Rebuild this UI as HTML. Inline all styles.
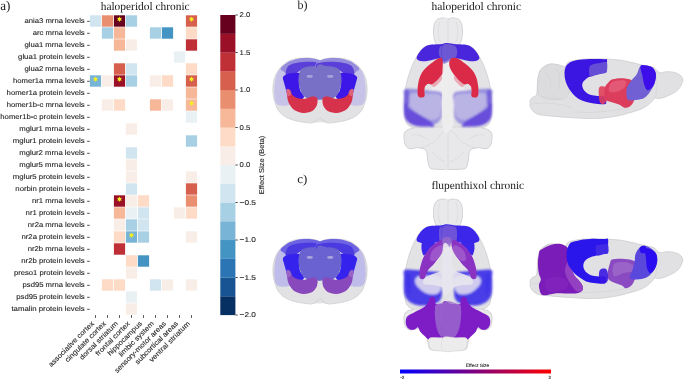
<!DOCTYPE html>
<html><head><meta charset="utf-8"><style>
html,body{margin:0;padding:0;background:#fff;}
body{width:685px;height:379px;overflow:hidden;position:relative;}
svg{position:absolute;left:0;top:0;text-rendering:geometricPrecision;will-change:transform;}
.s{font-family:"Liberation Sans",sans-serif;font-size:7px;fill:#262626;stroke:#262626;stroke-width:0.12px;}
.t{font-family:"Liberation Serif",serif;fill:#1a1a1a;}
</style></head><body>
<svg width="685" height="379" viewBox="0 0 685 379">
<defs>
<filter id="b06" filterUnits="userSpaceOnUse" x="-1000" y="-1000" width="3000" height="3000"><feGaussianBlur stdDeviation="0.6"/></filter>
<filter id="bc" filterUnits="userSpaceOnUse" x="-3000" y="-3000" width="9000" height="9000"><feGaussianBlur stdDeviation="3.5"/></filter>
<filter id="b15" filterUnits="userSpaceOnUse" x="-1000" y="-1000" width="3000" height="3000"><feGaussianBlur stdDeviation="0.8"/></filter>
<filter id="b1" filterUnits="userSpaceOnUse" x="-1000" y="-1000" width="3000" height="3000"><feGaussianBlur stdDeviation="1"/></filter>
<filter id="b2" filterUnits="userSpaceOnUse" x="-1000" y="-1000" width="3000" height="3000"><feGaussianBlur stdDeviation="2"/></filter>
<linearGradient id="cbh" x1="0" x2="1" y1="0" y2="0"><stop offset="0" stop-color="#0000ff"/><stop offset="1" stop-color="#ff0000"/></linearGradient>
</defs>
<text class="t" x="0.3" y="9.8" font-size="13.2" textLength="10.2" lengthAdjust="spacingAndGlyphs">a)</text>
<text class="t" x="145.2" y="10.4" font-size="11.4" text-anchor="middle" textLength="89" lengthAdjust="spacingAndGlyphs">haloperidol chronic</text>
<g><rect x="89.90" y="15.30" width="11.2" height="11.4" fill="#d1e5f0"/><rect x="101.90" y="15.30" width="11.2" height="11.4" fill="#ea8e70"/><rect x="113.90" y="15.30" width="11.2" height="11.4" fill="#67001f"/><rect x="125.90" y="15.30" width="11.2" height="11.4" fill="#a7d0e4"/><rect x="185.90" y="15.30" width="11.2" height="11.4" fill="#d6604d"/><rect x="101.90" y="27.30" width="11.2" height="11.4" fill="#a7d0e4"/><rect x="113.90" y="27.30" width="11.2" height="11.4" fill="#f7b799"/><rect x="149.90" y="27.30" width="11.2" height="11.4" fill="#a7d0e4"/><rect x="161.90" y="27.30" width="11.2" height="11.4" fill="#4393c3"/><rect x="185.90" y="27.30" width="11.2" height="11.4" fill="#fddbc7"/><rect x="113.90" y="39.30" width="11.2" height="11.4" fill="#f7b799"/><rect x="125.90" y="39.30" width="11.2" height="11.4" fill="#f9eee7"/><rect x="185.90" y="39.30" width="11.2" height="11.4" fill="#be3036"/><rect x="173.90" y="51.30" width="11.2" height="11.4" fill="#eaf1f5"/><rect x="113.90" y="63.30" width="11.2" height="11.4" fill="#d6604d"/><rect x="125.90" y="63.30" width="11.2" height="11.4" fill="#d1e5f0"/><rect x="185.90" y="63.30" width="11.2" height="11.4" fill="#fddbc7"/><rect x="89.90" y="75.30" width="11.2" height="11.4" fill="#78b4d5"/><rect x="101.90" y="75.30" width="11.2" height="11.4" fill="#f9eee7"/><rect x="113.90" y="75.30" width="11.2" height="11.4" fill="#991027"/><rect x="125.90" y="75.30" width="11.2" height="11.4" fill="#a7d0e4"/><rect x="149.90" y="75.30" width="11.2" height="11.4" fill="#f9eee7"/><rect x="161.90" y="75.30" width="11.2" height="11.4" fill="#fddbc7"/><rect x="185.90" y="75.30" width="11.2" height="11.4" fill="#d6604d"/><rect x="185.90" y="87.30" width="11.2" height="11.4" fill="#f7b799"/><rect x="101.90" y="99.30" width="11.2" height="11.4" fill="#f9eee7"/><rect x="113.90" y="99.30" width="11.2" height="11.4" fill="#fddbc7"/><rect x="149.90" y="99.30" width="11.2" height="11.4" fill="#f7b799"/><rect x="161.90" y="99.30" width="11.2" height="11.4" fill="#f9eee7"/><rect x="185.90" y="99.30" width="11.2" height="11.4" fill="#f7b799"/><rect x="185.90" y="111.30" width="11.2" height="11.4" fill="#eaf1f5"/><rect x="125.90" y="123.30" width="11.2" height="11.4" fill="#f9eee7"/><rect x="185.90" y="135.30" width="11.2" height="11.4" fill="#a7d0e4"/><rect x="125.90" y="147.30" width="11.2" height="11.4" fill="#d1e5f0"/><rect x="125.90" y="159.30" width="11.2" height="11.4" fill="#f9eee7"/><rect x="125.90" y="171.30" width="11.2" height="11.4" fill="#f9eee7"/><rect x="185.90" y="171.30" width="11.2" height="11.4" fill="#f9eee7"/><rect x="125.90" y="183.30" width="11.2" height="11.4" fill="#d1e5f0"/><rect x="185.90" y="183.30" width="11.2" height="11.4" fill="#d6604d"/><rect x="113.90" y="195.30" width="11.2" height="11.4" fill="#991027"/><rect x="125.90" y="195.30" width="11.2" height="11.4" fill="#f9eee7"/><rect x="137.90" y="195.30" width="11.2" height="11.4" fill="#fddbc7"/><rect x="185.90" y="195.30" width="11.2" height="11.4" fill="#ea8e70"/><rect x="113.90" y="207.30" width="11.2" height="11.4" fill="#f7b799"/><rect x="125.90" y="207.30" width="11.2" height="11.4" fill="#eaf1f5"/><rect x="137.90" y="207.30" width="11.2" height="11.4" fill="#d1e5f0"/><rect x="173.90" y="207.30" width="11.2" height="11.4" fill="#f9eee7"/><rect x="185.90" y="207.30" width="11.2" height="11.4" fill="#fddbc7"/><rect x="113.90" y="219.30" width="11.2" height="11.4" fill="#f9eee7"/><rect x="125.90" y="219.30" width="11.2" height="11.4" fill="#a7d0e4"/><rect x="137.90" y="219.30" width="11.2" height="11.4" fill="#d1e5f0"/><rect x="113.90" y="231.30" width="11.2" height="11.4" fill="#fddbc7"/><rect x="125.90" y="231.30" width="11.2" height="11.4" fill="#78b4d5"/><rect x="137.90" y="231.30" width="11.2" height="11.4" fill="#a7d0e4"/><rect x="185.90" y="231.30" width="11.2" height="11.4" fill="#f9eee7"/><rect x="113.90" y="243.30" width="11.2" height="11.4" fill="#be3036"/><rect x="125.90" y="255.30" width="11.2" height="11.4" fill="#fddbc7"/><rect x="137.90" y="255.30" width="11.2" height="11.4" fill="#4393c3"/><rect x="125.90" y="267.30" width="11.2" height="11.4" fill="#f9eee7"/><rect x="101.90" y="279.30" width="11.2" height="11.4" fill="#fddbc7"/><rect x="113.90" y="279.30" width="11.2" height="11.4" fill="#fddbc7"/><rect x="149.90" y="279.30" width="11.2" height="11.4" fill="#d1e5f0"/><rect x="161.90" y="279.30" width="11.2" height="11.4" fill="#f9eee7"/><rect x="185.90" y="279.30" width="11.2" height="11.4" fill="#f9eee7"/><rect x="125.90" y="291.30" width="11.2" height="11.4" fill="#eaf1f5"/><rect x="125.90" y="303.30" width="11.2" height="11.4" fill="#f9eee7"/></g>
<g><polygon points="119.50,16.50 118.76,17.91 117.16,17.85 118.02,19.20 117.16,20.55 118.76,20.49 119.50,21.90 120.24,20.49 121.84,20.55 120.98,19.20 121.84,17.85 120.24,17.91" fill="#f4ee1c"/><polygon points="191.50,16.50 190.76,17.91 189.16,17.85 190.01,19.20 189.16,20.55 190.76,20.49 191.50,21.90 192.24,20.49 193.84,20.55 192.99,19.20 193.84,17.85 192.24,17.91" fill="#f4ee1c"/><polygon points="95.50,76.50 94.76,77.91 93.16,77.85 94.02,79.20 93.16,80.55 94.76,80.49 95.50,81.90 96.24,80.49 97.84,80.55 96.98,79.20 97.84,77.85 96.24,77.91" fill="#f4ee1c"/><polygon points="119.50,76.50 118.76,77.91 117.16,77.85 118.02,79.20 117.16,80.55 118.76,80.49 119.50,81.90 120.24,80.49 121.84,80.55 120.98,79.20 121.84,77.85 120.24,77.91" fill="#f4ee1c"/><polygon points="191.50,76.50 190.76,77.91 189.16,77.85 190.01,79.20 189.16,80.55 190.76,80.49 191.50,81.90 192.24,80.49 193.84,80.55 192.99,79.20 193.84,77.85 192.24,77.91" fill="#f4ee1c"/><polygon points="191.50,100.50 190.76,101.91 189.16,101.85 190.01,103.20 189.16,104.55 190.76,104.49 191.50,105.90 192.24,104.49 193.84,104.55 192.99,103.20 193.84,101.85 192.24,101.91" fill="#f4ee1c"/><polygon points="119.50,196.50 118.76,197.91 117.16,197.85 118.02,199.20 117.16,200.55 118.76,200.49 119.50,201.90 120.24,200.49 121.84,200.55 120.98,199.20 121.84,197.85 120.24,197.91" fill="#f4ee1c"/><polygon points="131.50,232.50 130.76,233.91 129.16,233.85 130.01,235.20 129.16,236.55 130.76,236.49 131.50,237.90 132.24,236.49 133.84,236.55 132.99,235.20 133.84,233.85 132.24,233.91" fill="#f4ee1c"/></g>
<g class="s"><text x="84.7" y="23.20" text-anchor="end" textLength="60.14" lengthAdjust="spacingAndGlyphs">ania3 mrna levels</text><text x="84.7" y="35.20" text-anchor="end" textLength="51.90" lengthAdjust="spacingAndGlyphs">arc mrna levels</text><text x="84.7" y="47.20" text-anchor="end" textLength="60.29" lengthAdjust="spacingAndGlyphs">glua1 mrna levels</text><text x="84.7" y="59.20" text-anchor="end" textLength="66.62" lengthAdjust="spacingAndGlyphs">glua1 protein levels</text><text x="84.7" y="71.20" text-anchor="end" textLength="60.29" lengthAdjust="spacingAndGlyphs">glua2 mrna levels</text><text x="84.7" y="83.20" text-anchor="end" textLength="71.74" lengthAdjust="spacingAndGlyphs">homer1a mrna levels</text><text x="84.7" y="95.20" text-anchor="end" textLength="78.08" lengthAdjust="spacingAndGlyphs">homer1a protein levels</text><text x="84.7" y="107.20" text-anchor="end" textLength="78.03" lengthAdjust="spacingAndGlyphs">homer1b-c mrna levels</text><text x="84.7" y="119.20" text-anchor="end" textLength="84.37" lengthAdjust="spacingAndGlyphs">homer1b-c protein levels</text><text x="84.7" y="131.20" text-anchor="end" textLength="65.49" lengthAdjust="spacingAndGlyphs">mglur1 mrna levels</text><text x="84.7" y="143.20" text-anchor="end" textLength="71.83" lengthAdjust="spacingAndGlyphs">mglur1 protein levels</text><text x="84.7" y="155.20" text-anchor="end" textLength="65.49" lengthAdjust="spacingAndGlyphs">mglur2 mrna levels</text><text x="84.7" y="167.20" text-anchor="end" textLength="65.49" lengthAdjust="spacingAndGlyphs">mglur5 mrna levels</text><text x="84.7" y="179.20" text-anchor="end" textLength="71.83" lengthAdjust="spacingAndGlyphs">mglur5 protein levels</text><text x="84.7" y="191.20" text-anchor="end" textLength="69.37" lengthAdjust="spacingAndGlyphs">norbin protein levels</text><text x="84.7" y="203.20" text-anchor="end" textLength="52.77" lengthAdjust="spacingAndGlyphs">nr1 mrna levels</text><text x="84.7" y="215.20" text-anchor="end" textLength="59.11" lengthAdjust="spacingAndGlyphs">nr1 protein levels</text><text x="84.7" y="227.20" text-anchor="end" textLength="56.90" lengthAdjust="spacingAndGlyphs">nr2a mrna levels</text><text x="84.7" y="239.20" text-anchor="end" textLength="63.24" lengthAdjust="spacingAndGlyphs">nr2a protein levels</text><text x="84.7" y="251.20" text-anchor="end" textLength="57.05" lengthAdjust="spacingAndGlyphs">nr2b mrna levels</text><text x="84.7" y="263.20" text-anchor="end" textLength="63.39" lengthAdjust="spacingAndGlyphs">nr2b protein levels</text><text x="84.7" y="275.20" text-anchor="end" textLength="70.75" lengthAdjust="spacingAndGlyphs">preso1 protein levels</text><text x="84.7" y="287.20" text-anchor="end" textLength="62.09" lengthAdjust="spacingAndGlyphs">psd95 mrna levels</text><text x="84.7" y="299.20" text-anchor="end" textLength="68.43" lengthAdjust="spacingAndGlyphs">psd95 protein levels</text><text x="84.7" y="311.20" text-anchor="end" textLength="73.27" lengthAdjust="spacingAndGlyphs">tamalin protein levels</text></g>
<g stroke="#333" stroke-width="0.85"><line x1="87.1" y1="21.30" x2="89.7" y2="21.30"/><line x1="87.1" y1="33.30" x2="89.7" y2="33.30"/><line x1="87.1" y1="45.30" x2="89.7" y2="45.30"/><line x1="87.1" y1="57.30" x2="89.7" y2="57.30"/><line x1="87.1" y1="69.30" x2="89.7" y2="69.30"/><line x1="87.1" y1="81.30" x2="89.7" y2="81.30"/><line x1="87.1" y1="93.30" x2="89.7" y2="93.30"/><line x1="87.1" y1="105.30" x2="89.7" y2="105.30"/><line x1="87.1" y1="117.30" x2="89.7" y2="117.30"/><line x1="87.1" y1="129.30" x2="89.7" y2="129.30"/><line x1="87.1" y1="141.30" x2="89.7" y2="141.30"/><line x1="87.1" y1="153.30" x2="89.7" y2="153.30"/><line x1="87.1" y1="165.30" x2="89.7" y2="165.30"/><line x1="87.1" y1="177.30" x2="89.7" y2="177.30"/><line x1="87.1" y1="189.30" x2="89.7" y2="189.30"/><line x1="87.1" y1="201.30" x2="89.7" y2="201.30"/><line x1="87.1" y1="213.30" x2="89.7" y2="213.30"/><line x1="87.1" y1="225.30" x2="89.7" y2="225.30"/><line x1="87.1" y1="237.30" x2="89.7" y2="237.30"/><line x1="87.1" y1="249.30" x2="89.7" y2="249.30"/><line x1="87.1" y1="261.30" x2="89.7" y2="261.30"/><line x1="87.1" y1="273.30" x2="89.7" y2="273.30"/><line x1="87.1" y1="285.30" x2="89.7" y2="285.30"/><line x1="87.1" y1="297.30" x2="89.7" y2="297.30"/><line x1="87.1" y1="309.30" x2="89.7" y2="309.30"/></g>
<g class="s"><text x="94.40" y="324.00" text-anchor="end" textLength="61.04" lengthAdjust="spacingAndGlyphs" transform="rotate(-45 94.40 324.00)">associative cortex</text><text x="106.40" y="324.00" text-anchor="end" textLength="54.60" lengthAdjust="spacingAndGlyphs" transform="rotate(-45 106.40 324.00)">cingulate cortex</text><text x="118.40" y="324.00" text-anchor="end" textLength="51.24" lengthAdjust="spacingAndGlyphs" transform="rotate(-45 118.40 324.00)">dorsal striatum</text><text x="130.40" y="324.00" text-anchor="end" textLength="45.44" lengthAdjust="spacingAndGlyphs" transform="rotate(-45 130.40 324.00)">frontal cortex</text><text x="142.40" y="324.00" text-anchor="end" textLength="45.29" lengthAdjust="spacingAndGlyphs" transform="rotate(-45 142.40 324.00)">hippocampus</text><text x="154.40" y="324.00" text-anchor="end" textLength="46.68" lengthAdjust="spacingAndGlyphs" transform="rotate(-45 154.40 324.00)">limbic system</text><text x="166.40" y="324.00" text-anchor="end" textLength="69.55" lengthAdjust="spacingAndGlyphs" transform="rotate(-45 166.40 324.00)">sensory-motor areas</text><text x="178.40" y="324.00" text-anchor="end" textLength="57.57" lengthAdjust="spacingAndGlyphs" transform="rotate(-45 178.40 324.00)">subcortical areas</text><text x="190.40" y="324.00" text-anchor="end" textLength="54.37" lengthAdjust="spacingAndGlyphs" transform="rotate(-45 190.40 324.00)">ventral striatum</text></g>
<g stroke="#333" stroke-width="0.85"><line x1="95.50" y1="315.2" x2="95.50" y2="317.9"/><line x1="107.50" y1="315.2" x2="107.50" y2="317.9"/><line x1="119.50" y1="315.2" x2="119.50" y2="317.9"/><line x1="131.50" y1="315.2" x2="131.50" y2="317.9"/><line x1="143.50" y1="315.2" x2="143.50" y2="317.9"/><line x1="155.50" y1="315.2" x2="155.50" y2="317.9"/><line x1="167.50" y1="315.2" x2="167.50" y2="317.9"/><line x1="179.50" y1="315.2" x2="179.50" y2="317.9"/><line x1="191.50" y1="315.2" x2="191.50" y2="317.9"/></g>
<g><rect x="220.3" y="296.250" width="15.1" height="18.85" fill="#053061"/><rect x="220.3" y="277.500" width="15.1" height="18.85" fill="#185493"/><rect x="220.3" y="258.750" width="15.1" height="18.85" fill="#2c75b4"/><rect x="220.3" y="240.000" width="15.1" height="18.85" fill="#4393c3"/><rect x="220.3" y="221.250" width="15.1" height="18.85" fill="#78b4d5"/><rect x="220.3" y="202.500" width="15.1" height="18.85" fill="#a7d0e4"/><rect x="220.3" y="183.750" width="15.1" height="18.85" fill="#d1e5f0"/><rect x="220.3" y="165.000" width="15.1" height="18.85" fill="#eaf1f5"/><rect x="220.3" y="146.250" width="15.1" height="18.85" fill="#f9eee7"/><rect x="220.3" y="127.500" width="15.1" height="18.85" fill="#fddbc7"/><rect x="220.3" y="108.750" width="15.1" height="18.85" fill="#f7b799"/><rect x="220.3" y="90.000" width="15.1" height="18.85" fill="#ea8e70"/><rect x="220.3" y="71.250" width="15.1" height="18.85" fill="#d6604d"/><rect x="220.3" y="52.500" width="15.1" height="18.85" fill="#be3036"/><rect x="220.3" y="33.750" width="15.1" height="18.85" fill="#991027"/><rect x="220.3" y="15.000" width="15.1" height="18.85" fill="#67001f"/></g>
<g stroke="#333" stroke-width="0.85"><line x1="235.4" y1="15.00" x2="237.8" y2="15.00"/><line x1="235.4" y1="52.50" x2="237.8" y2="52.50"/><line x1="235.4" y1="90.00" x2="237.8" y2="90.00"/><line x1="235.4" y1="127.50" x2="237.8" y2="127.50"/><line x1="235.4" y1="165.00" x2="237.8" y2="165.00"/><line x1="235.4" y1="202.50" x2="237.8" y2="202.50"/><line x1="235.4" y1="240.00" x2="237.8" y2="240.00"/><line x1="235.4" y1="277.50" x2="237.8" y2="277.50"/><line x1="235.4" y1="315.00" x2="237.8" y2="315.00"/></g>
<g class="s"><text x="239.6" y="17.40" textLength="10.72" lengthAdjust="spacingAndGlyphs">2.0</text><text x="239.6" y="54.90" textLength="10.72" lengthAdjust="spacingAndGlyphs">1.5</text><text x="239.6" y="92.40" textLength="10.72" lengthAdjust="spacingAndGlyphs">1.0</text><text x="239.6" y="129.90" textLength="10.72" lengthAdjust="spacingAndGlyphs">0.5</text><text x="239.6" y="167.40" textLength="10.72" lengthAdjust="spacingAndGlyphs">0.0</text><text x="239.6" y="204.90" textLength="16.37" lengthAdjust="spacingAndGlyphs">−0.5</text><text x="239.6" y="242.40" textLength="16.37" lengthAdjust="spacingAndGlyphs">−1.0</text><text x="239.6" y="279.90" textLength="16.37" lengthAdjust="spacingAndGlyphs">−1.5</text><text x="239.6" y="317.40" textLength="16.37" lengthAdjust="spacingAndGlyphs">−2.0</text></g>
<text class="s" transform="translate(264.1 165) rotate(-90)" text-anchor="middle" textLength="58.3" lengthAdjust="spacingAndGlyphs">Effect Size (Beta)</text>
<text class="t" x="297.5" y="9.4" font-size="12.4" textLength="10" lengthAdjust="spacingAndGlyphs">b)</text>
<text class="t" x="476.3" y="10.2" font-size="11.4" text-anchor="middle" textLength="89.8" lengthAdjust="spacingAndGlyphs">haloperidol chronic</text>
<text class="t" x="297.3" y="182.9" font-size="12.4" textLength="10" lengthAdjust="spacingAndGlyphs">c)</text>
<text class="t" x="477.8" y="189.4" font-size="11.4" text-anchor="middle" textLength="92.8" lengthAdjust="spacingAndGlyphs">flupenthixol chronic</text>
<g id="brains">
<g id="corB"><g transform="translate(270 55) scale(0.17135)"><path d="M296.00 38.00 C291.67 35.67,281.00 27.50,270.00 24.00 C259.00 20.50,243.33 18.00,230.00 17.00 C216.67 16.00,206.67 16.33,190.00 18.00 C173.33 19.67,148.33 20.83,130.00 27.00 C111.67 33.17,94.17 43.67,80.00 55.00 C65.83 66.33,54.17 80.83,45.00 95.00 C35.83 109.17,29.67 124.17,25.00 140.00 C20.33 155.83,17.83 173.33,17.00 190.00 C16.17 206.67,17.50 224.17,20.00 240.00 C22.50 255.83,27.00 270.83,32.00 285.00 C37.00 299.17,41.17 312.83,50.00 325.00 C58.83 337.17,70.83 348.83,85.00 358.00 C99.17 367.17,116.67 374.33,135.00 380.00 C153.33 385.67,175.83 389.50,195.00 392.00 C214.17 394.50,233.17 394.83,250.00 395.00 C266.83 395.17,288.33 393.33,296.00 393.00 L296 36 Z" fill="#e2e2e4"/>
<path d="M292.00 34.00 C288.33 32.33,280.33 26.83,270.00 24.00 C259.67 21.17,243.33 18.00,230.00 17.00 C216.67 16.00,206.67 16.33,190.00 18.00 C173.33 19.67,148.33 20.83,130.00 27.00 C111.67 33.17,94.17 43.67,80.00 55.00 C65.83 66.33,54.17 80.83,45.00 95.00 C35.83 109.17,29.67 124.17,25.00 140.00 C20.33 155.83,17.83 173.33,17.00 190.00 C16.17 206.67,17.50 224.17,20.00 240.00 C22.50 255.83,27.00 270.83,32.00 285.00 C37.00 299.17,41.17 312.83,50.00 325.00 C58.83 337.17,70.83 348.83,85.00 358.00 C99.17 367.17,116.67 374.33,135.00 380.00 C153.33 385.67,175.83 389.50,195.00 392.00 C214.17 394.50,233.83 399.67,250.00 395.00 C266.17 390.33,285.00 369.17,292.00 364.00" fill="none" stroke="#c8c8cc" stroke-width="4"/>
<g filter="url(#bc)">
<path d="M30.00 150.00 C33.33 128.33,36.67 115.00,45.00 100.00 C53.33 85.00,65.83 70.83,80.00 60.00 C94.17 49.17,118.33 26.67,130.00 35.00 C141.67 43.33,151.67 92.50,150.00 110.00 C148.33 127.50,126.67 125.00,120.00 140.00 C113.33 155.00,110.00 175.83,110.00 200.00 C110.00 224.17,130.83 270.00,120.00 285.00 C109.17 300.00,60.83 299.17,45.00 290.00 C29.17 280.83,27.50 253.33,25.00 230.00 C22.50 206.67,26.67 171.67,30.00 150.00 Z" fill="#c4bfe8" opacity="0.9"/>
<path d="M310.00 40.00 C306.67 32.33,300.00 33.33,290.00 30.00 C280.00 26.67,265.00 22.00,250.00 20.00 C235.00 18.00,216.67 17.17,200.00 18.00 C183.33 18.83,166.67 20.50,150.00 25.00 C133.33 29.50,114.67 35.83,100.00 45.00 C85.33 54.17,64.50 70.83,62.00 80.00 C59.50 89.17,78.67 93.33,85.00 100.00 C91.33 106.67,89.17 120.00,100.00 120.00 C110.83 120.00,133.33 106.67,150.00 100.00 C166.67 93.33,173.33 84.00,200.00 80.00 C226.67 76.00,291.67 82.67,310.00 76.00 C328.33 69.33,313.33 47.67,310.00 40.00 Z" fill="#958cdc" />
<path d="M110.00 62.00 C121.33 52.83,140.00 48.67,160.00 45.00 C180.00 41.33,208.33 40.00,230.00 40.00 C251.67 40.00,276.67 43.33,290.00 45.00 C303.33 46.67,306.67 44.83,310.00 50.00 C313.33 55.17,321.67 72.33,310.00 76.00 C298.33 79.67,258.33 71.67,240.00 72.00 C221.67 72.33,210.83 74.67,200.00 78.00 C189.17 81.33,183.33 87.00,175.00 92.00 C166.67 97.00,161.67 103.00,150.00 108.00 C138.33 113.00,114.67 123.33,105.00 122.00 C95.33 120.67,91.17 110.00,92.00 100.00 C92.83 90.00,98.67 71.17,110.00 62.00 Z" fill="#5a40d8" />
<path d="M76.00 128.00 C79.33 120.83,87.67 116.00,100.00 112.00 C112.33 108.00,137.00 104.33,150.00 104.00 C163.00 103.67,174.67 100.67,178.00 110.00 C181.33 119.33,170.33 144.17,170.00 160.00 C169.67 175.83,171.33 190.67,176.00 205.00 C180.67 219.33,202.33 234.83,198.00 246.00 C193.67 257.17,163.33 270.50,150.00 272.00 C136.67 273.50,126.33 262.33,118.00 255.00 C109.67 247.67,104.67 238.83,100.00 228.00 C95.33 217.17,93.33 202.17,90.00 190.00 C86.67 177.83,82.33 165.33,80.00 155.00 C77.67 144.67,72.67 135.17,76.00 128.00 Z" fill="#3c16e8" />
<path d="M176.00 92.00 C182.50 79.00,192.67 76.33,205.00 72.00 C217.33 67.67,232.50 66.33,250.00 66.00 C267.50 65.67,300.00 40.00,310.00 70.00 C320.00 100.00,320.00 215.67,310.00 246.00 C300.00 276.33,267.50 252.00,250.00 252.00 C232.50 252.00,217.00 253.83,205.00 246.00 C193.00 238.17,184.50 221.00,178.00 205.00 C171.50 189.00,166.33 168.83,166.00 150.00 C165.67 131.17,169.50 105.00,176.00 92.00 Z" fill="#7870c6" />
<ellipse cx="232" cy="125" rx="18" ry="8" fill="#aaa4dc"/>
<path d="M100.00 205.00 C102.33 195.50,112.67 200.00,118.00 205.00 C123.33 210.00,124.17 227.17,132.00 235.00 C139.83 242.83,152.83 248.67,165.00 252.00 C177.17 255.33,192.50 256.33,205.00 255.00 C217.50 253.67,229.50 245.67,240.00 244.00 C250.50 242.33,261.67 242.00,268.00 245.00 C274.33 248.00,277.67 252.83,278.00 262.00 C278.33 271.17,276.33 288.67,270.00 300.00 C263.67 311.33,252.50 323.67,240.00 330.00 C227.50 336.33,210.00 338.83,195.00 338.00 C180.00 337.17,162.17 331.33,150.00 325.00 C137.83 318.67,129.67 310.50,122.00 300.00 C114.33 289.50,107.67 277.83,104.00 262.00 C100.33 246.17,97.67 214.50,100.00 205.00 Z" fill="#d6304c" />
<path d="M95.00 200.00 C97.50 195.33,107.00 195.83,112.00 200.00 C117.00 204.17,125.33 218.33,125.00 225.00 C124.67 231.67,114.67 239.50,110.00 240.00 C105.33 240.50,99.50 234.67,97.00 228.00 C94.50 221.33,92.50 204.67,95.00 200.00 Z" fill="#e07a90" opacity="0.7"/>
</g></g><g transform="translate(640 0) scale(-1 1)"><g transform="translate(270 55) scale(0.17135)"><path d="M296.00 38.00 C291.67 35.67,281.00 27.50,270.00 24.00 C259.00 20.50,243.33 18.00,230.00 17.00 C216.67 16.00,206.67 16.33,190.00 18.00 C173.33 19.67,148.33 20.83,130.00 27.00 C111.67 33.17,94.17 43.67,80.00 55.00 C65.83 66.33,54.17 80.83,45.00 95.00 C35.83 109.17,29.67 124.17,25.00 140.00 C20.33 155.83,17.83 173.33,17.00 190.00 C16.17 206.67,17.50 224.17,20.00 240.00 C22.50 255.83,27.00 270.83,32.00 285.00 C37.00 299.17,41.17 312.83,50.00 325.00 C58.83 337.17,70.83 348.83,85.00 358.00 C99.17 367.17,116.67 374.33,135.00 380.00 C153.33 385.67,175.83 389.50,195.00 392.00 C214.17 394.50,233.17 394.83,250.00 395.00 C266.83 395.17,288.33 393.33,296.00 393.00 L296 36 Z" fill="#e2e2e4"/>
<path d="M292.00 34.00 C288.33 32.33,280.33 26.83,270.00 24.00 C259.67 21.17,243.33 18.00,230.00 17.00 C216.67 16.00,206.67 16.33,190.00 18.00 C173.33 19.67,148.33 20.83,130.00 27.00 C111.67 33.17,94.17 43.67,80.00 55.00 C65.83 66.33,54.17 80.83,45.00 95.00 C35.83 109.17,29.67 124.17,25.00 140.00 C20.33 155.83,17.83 173.33,17.00 190.00 C16.17 206.67,17.50 224.17,20.00 240.00 C22.50 255.83,27.00 270.83,32.00 285.00 C37.00 299.17,41.17 312.83,50.00 325.00 C58.83 337.17,70.83 348.83,85.00 358.00 C99.17 367.17,116.67 374.33,135.00 380.00 C153.33 385.67,175.83 389.50,195.00 392.00 C214.17 394.50,233.83 399.67,250.00 395.00 C266.17 390.33,285.00 369.17,292.00 364.00" fill="none" stroke="#c8c8cc" stroke-width="4"/>
<g filter="url(#bc)">
<path d="M30.00 150.00 C33.33 128.33,36.67 115.00,45.00 100.00 C53.33 85.00,65.83 70.83,80.00 60.00 C94.17 49.17,118.33 26.67,130.00 35.00 C141.67 43.33,151.67 92.50,150.00 110.00 C148.33 127.50,126.67 125.00,120.00 140.00 C113.33 155.00,110.00 175.83,110.00 200.00 C110.00 224.17,130.83 270.00,120.00 285.00 C109.17 300.00,60.83 299.17,45.00 290.00 C29.17 280.83,27.50 253.33,25.00 230.00 C22.50 206.67,26.67 171.67,30.00 150.00 Z" fill="#c4bfe8" opacity="0.9"/>
<path d="M310.00 40.00 C306.67 32.33,300.00 33.33,290.00 30.00 C280.00 26.67,265.00 22.00,250.00 20.00 C235.00 18.00,216.67 17.17,200.00 18.00 C183.33 18.83,166.67 20.50,150.00 25.00 C133.33 29.50,114.67 35.83,100.00 45.00 C85.33 54.17,64.50 70.83,62.00 80.00 C59.50 89.17,78.67 93.33,85.00 100.00 C91.33 106.67,89.17 120.00,100.00 120.00 C110.83 120.00,133.33 106.67,150.00 100.00 C166.67 93.33,173.33 84.00,200.00 80.00 C226.67 76.00,291.67 82.67,310.00 76.00 C328.33 69.33,313.33 47.67,310.00 40.00 Z" fill="#958cdc" />
<path d="M110.00 62.00 C121.33 52.83,140.00 48.67,160.00 45.00 C180.00 41.33,208.33 40.00,230.00 40.00 C251.67 40.00,276.67 43.33,290.00 45.00 C303.33 46.67,306.67 44.83,310.00 50.00 C313.33 55.17,321.67 72.33,310.00 76.00 C298.33 79.67,258.33 71.67,240.00 72.00 C221.67 72.33,210.83 74.67,200.00 78.00 C189.17 81.33,183.33 87.00,175.00 92.00 C166.67 97.00,161.67 103.00,150.00 108.00 C138.33 113.00,114.67 123.33,105.00 122.00 C95.33 120.67,91.17 110.00,92.00 100.00 C92.83 90.00,98.67 71.17,110.00 62.00 Z" fill="#5a40d8" />
<path d="M76.00 128.00 C79.33 120.83,87.67 116.00,100.00 112.00 C112.33 108.00,137.00 104.33,150.00 104.00 C163.00 103.67,174.67 100.67,178.00 110.00 C181.33 119.33,170.33 144.17,170.00 160.00 C169.67 175.83,171.33 190.67,176.00 205.00 C180.67 219.33,202.33 234.83,198.00 246.00 C193.67 257.17,163.33 270.50,150.00 272.00 C136.67 273.50,126.33 262.33,118.00 255.00 C109.67 247.67,104.67 238.83,100.00 228.00 C95.33 217.17,93.33 202.17,90.00 190.00 C86.67 177.83,82.33 165.33,80.00 155.00 C77.67 144.67,72.67 135.17,76.00 128.00 Z" fill="#3c16e8" />
<path d="M176.00 92.00 C182.50 79.00,192.67 76.33,205.00 72.00 C217.33 67.67,232.50 66.33,250.00 66.00 C267.50 65.67,300.00 40.00,310.00 70.00 C320.00 100.00,320.00 215.67,310.00 246.00 C300.00 276.33,267.50 252.00,250.00 252.00 C232.50 252.00,217.00 253.83,205.00 246.00 C193.00 238.17,184.50 221.00,178.00 205.00 C171.50 189.00,166.33 168.83,166.00 150.00 C165.67 131.17,169.50 105.00,176.00 92.00 Z" fill="#7870c6" />
<ellipse cx="232" cy="125" rx="18" ry="8" fill="#aaa4dc"/>
<path d="M100.00 205.00 C102.33 195.50,112.67 200.00,118.00 205.00 C123.33 210.00,124.17 227.17,132.00 235.00 C139.83 242.83,152.83 248.67,165.00 252.00 C177.17 255.33,192.50 256.33,205.00 255.00 C217.50 253.67,229.50 245.67,240.00 244.00 C250.50 242.33,261.67 242.00,268.00 245.00 C274.33 248.00,277.67 252.83,278.00 262.00 C278.33 271.17,276.33 288.67,270.00 300.00 C263.67 311.33,252.50 323.67,240.00 330.00 C227.50 336.33,210.00 338.83,195.00 338.00 C180.00 337.17,162.17 331.33,150.00 325.00 C137.83 318.67,129.67 310.50,122.00 300.00 C114.33 289.50,107.67 277.83,104.00 262.00 C100.33 246.17,97.67 214.50,100.00 205.00 Z" fill="#d6304c" />
<path d="M95.00 200.00 C97.50 195.33,107.00 195.83,112.00 200.00 C117.00 204.17,125.33 218.33,125.00 225.00 C124.67 231.67,114.67 239.50,110.00 240.00 C105.33 240.50,99.50 234.67,97.00 228.00 C94.50 221.33,92.50 204.67,95.00 200.00 Z" fill="#e07a90" opacity="0.7"/>
</g></g></g></g>
<g id="axB"><g><path d="M452.00 22.00 C451.33 21.67,449.17 20.67,448.00 20.00 C446.83 19.33,446.00 18.33,445.00 18.00 C444.00 17.67,443.33 17.75,442.00 18.00 C440.67 18.25,438.33 18.33,437.00 19.50 C435.67 20.67,434.58 22.75,434.00 25.00 C433.42 27.25,433.42 30.50,433.50 33.00 C433.58 35.50,434.08 38.03,434.50 40.00 C434.92 41.97,436.82 43.92,436.00 44.80 C435.18 45.68,431.60 44.85,429.60 45.30 C427.60 45.75,425.68 46.38,424.00 47.50 C422.32 48.62,420.75 50.42,419.50 52.00 C418.25 53.58,417.58 55.05,416.50 57.00 C415.42 58.95,414.10 61.27,413.00 63.70 C411.90 66.13,410.82 68.95,409.90 71.60 C408.98 74.25,408.27 76.53,407.50 79.60 C406.73 82.67,405.78 86.60,405.30 90.00 C404.82 93.40,404.72 96.33,404.60 100.00 C404.48 103.67,404.45 108.67,404.60 112.00 C404.75 115.33,405.02 117.92,405.50 120.00 C405.98 122.08,406.58 123.33,407.50 124.50 C408.42 125.67,409.92 126.42,411.00 127.00 C412.08 127.58,414.50 127.58,414.00 128.00 C413.50 128.42,409.58 128.67,408.00 129.50 C406.42 130.33,405.17 131.42,404.50 133.00 C403.83 134.58,403.83 136.92,404.00 139.00 C404.17 141.08,404.67 143.92,405.50 145.50 C406.33 147.08,407.75 148.00,409.00 148.50 C410.25 149.00,411.67 148.65,413.00 148.50 C414.33 148.35,415.83 147.68,417.00 147.60 C418.17 147.52,418.83 147.77,420.00 148.00 C421.17 148.23,422.92 148.50,424.00 149.00 C425.08 149.50,425.97 149.83,426.50 151.00 C427.03 152.17,426.95 154.17,427.20 156.00 C427.45 157.83,427.53 160.00,428.00 162.00 C428.47 164.00,428.67 166.78,430.00 168.00 C431.33 169.22,433.67 169.05,436.00 169.30 C438.33 169.55,441.33 169.47,444.00 169.50 C446.67 169.53,450.67 169.50,452.00 169.50 L452 169.5 L452 22 Z" fill="#e3e3e5"/>
<path d="M452 128 L414 128 C408 129,404 132,404 139 C404 146,408 149,413 148.5 C416 148,418 147.5,420 148 C424 149,426 150,427 152 C427 158,428 164,430 168 C434 169.5,444 169.5,452 169.5 Z" fill="#e8e8ea"/>
<path d="M452 45 L452 18 C450 19,447 17.5,442 18 C436 19,433 26,433.5 33 C434 39,435 43,436 45 Z" fill="#e9e9eb"/>
<path d="M448.00 20.00 C448.00 20.00,448.50 20.33,448.00 20.00 C447.50 19.67,446.00 18.33,445.00 18.00 C444.00 17.67,443.33 17.75,442.00 18.00 C440.67 18.25,438.33 18.33,437.00 19.50 C435.67 20.67,434.58 22.75,434.00 25.00 C433.42 27.25,433.42 30.50,433.50 33.00 C433.58 35.50,434.08 38.03,434.50 40.00 C434.92 41.97,436.82 43.92,436.00 44.80 C435.18 45.68,431.60 44.85,429.60 45.30 C427.60 45.75,425.68 46.38,424.00 47.50 C422.32 48.62,420.75 50.42,419.50 52.00 C418.25 53.58,417.58 55.05,416.50 57.00 C415.42 58.95,414.10 61.27,413.00 63.70 C411.90 66.13,410.82 68.95,409.90 71.60 C408.98 74.25,408.27 76.53,407.50 79.60 C406.73 82.67,405.78 86.60,405.30 90.00 C404.82 93.40,404.72 96.33,404.60 100.00 C404.48 103.67,404.45 108.67,404.60 112.00 C404.75 115.33,405.02 117.92,405.50 120.00 C405.98 122.08,406.58 123.33,407.50 124.50 C408.42 125.67,409.92 126.42,411.00 127.00 C412.08 127.58,414.50 127.58,414.00 128.00 C413.50 128.42,409.58 128.67,408.00 129.50 C406.42 130.33,405.17 131.42,404.50 133.00 C403.83 134.58,403.83 136.92,404.00 139.00 C404.17 141.08,404.67 143.92,405.50 145.50 C406.33 147.08,407.75 148.00,409.00 148.50 C410.25 149.00,411.67 148.65,413.00 148.50 C414.33 148.35,415.83 147.68,417.00 147.60 C418.17 147.52,418.83 147.77,420.00 148.00 C421.17 148.23,422.92 148.50,424.00 149.00 C425.08 149.50,425.97 149.83,426.50 151.00 C427.03 152.17,426.95 154.17,427.20 156.00 C427.45 157.83,427.53 160.00,428.00 162.00 C428.47 164.00,428.67 166.78,430.00 168.00 C431.33 169.22,433.67 169.05,436.00 169.30 C438.33 169.55,442.00 169.47,444.00 169.50 C446.00 169.53,447.33 169.50,448.00 169.50" fill="none" stroke="#c8c8cc" stroke-width="0.7"/>
<g fill="none" stroke="#d0d0d4" stroke-width="0.5">
<path d="M414 128 C430 126,440 127,452 127"/>
<path d="M420 148 C428 146,436 142,440 135 C443 131,446 130,452 130"/>
<path d="M412 135 C418 134,424 136,428 140"/>
<path d="M432 152 C436 156,440 160,446 162"/>
<path d="M448 130 L448 169"/>
<path d="M448 20 L448 44"/>
<path d="M440 22 C437 30,438 38,441 44"/>
</g>
<g filter="url(#b06)">
<path d="M453.00 61.00 C452.00 50.17,448.33 61.50,447.00 62.50 C445.67 63.50,446.00 64.75,445.00 67.00 C444.00 69.25,442.67 73.00,441.00 76.00 C439.33 79.00,437.00 82.50,435.00 85.00 C433.00 87.50,430.33 89.08,429.00 91.00 C427.67 92.92,426.17 95.67,427.00 96.50 C427.83 97.33,431.83 95.58,434.00 96.00 C436.17 96.42,438.67 96.67,440.00 99.00 C441.33 101.33,441.42 105.33,442.00 110.00 C442.58 114.67,441.67 124.08,443.50 127.00 C445.33 129.92,451.42 138.50,453.00 127.50 C454.58 116.50,454.00 71.83,453.00 61.00 Z" fill="#eeeeef" opacity="0.9"/>
</g>
<g filter="url(#b06)">
<path d="M453.00 44.30 C450.83 41.50,443.83 44.12,440.00 44.20 C436.17 44.28,432.58 44.33,430.00 44.80 C427.42 45.27,426.17 45.88,424.50 47.00 C422.83 48.12,421.22 50.00,420.00 51.50 C418.78 53.00,417.73 54.75,417.20 56.00 C416.67 57.25,416.25 58.17,416.80 59.00 C417.35 59.83,418.97 60.62,420.50 61.00 C422.03 61.38,424.25 61.42,426.00 61.30 C427.75 61.18,429.17 60.73,431.00 60.30 C432.83 59.87,434.83 59.03,437.00 58.70 C439.17 58.37,441.33 57.92,444.00 58.30 C446.67 58.68,451.50 63.33,453.00 61.00 C454.50 58.67,455.17 47.10,453.00 44.30 Z" fill="#4a28dc" />
<path d="M453.00 45.50 C451.17 42.67,444.33 44.75,442.00 45.50 C439.67 46.25,439.42 48.25,439.00 50.00 C438.58 51.75,438.83 54.42,439.50 56.00 C440.17 57.58,441.58 58.50,443.00 59.50 C444.42 60.50,446.33 61.50,448.00 62.00 C449.67 62.50,452.17 65.25,453.00 62.50 C453.83 59.75,454.83 48.33,453.00 45.50 Z" fill="#7a6ad2" opacity="0.75"/>
</g>
<g filter="url(#b15)">
<path d="M404.50 89.50 C406.33 88.17,411.08 88.83,415.00 89.00 C418.92 89.17,423.53 89.83,428.00 90.50 C432.47 91.17,439.47 90.75,441.80 93.00 C444.13 95.25,442.00 100.25,442.00 104.00 C442.00 107.75,442.13 112.83,441.80 115.50 C441.47 118.17,440.85 118.72,440.00 120.00 C439.15 121.28,438.37 122.20,436.70 123.20 C435.03 124.20,431.90 125.43,430.00 126.00 C428.10 126.57,427.30 126.57,425.30 126.60 C423.30 126.63,420.22 126.55,418.00 126.20 C415.78 125.85,413.73 125.37,412.00 124.50 C410.27 123.63,408.85 122.58,407.60 121.00 C406.35 119.42,405.13 117.33,404.50 115.00 C403.87 112.67,403.88 110.00,403.80 107.00 C403.72 104.00,403.88 99.92,404.00 97.00 C404.12 94.08,402.67 90.83,404.50 89.50 Z" fill="#9a92de" />
<path d="M410.00 94.00 C413.33 92.42,422.83 93.17,428.00 93.50 C433.17 93.83,438.83 92.92,441.00 96.00 C443.17 99.08,441.67 108.17,441.00 112.00 C440.33 115.83,439.33 117.83,437.00 119.00 C434.67 120.17,430.50 120.17,427.00 119.00 C423.50 117.83,419.17 114.67,416.00 112.00 C412.83 109.33,409.00 106.00,408.00 103.00 C407.00 100.00,406.67 95.58,410.00 94.00 Z" fill="#c8c3e8" opacity="0.7"/>
<path d="M404.50 103.00 C405.42 101.83,407.42 107.00,410.00 109.00 C412.58 111.00,416.67 113.00,420.00 115.00 C423.33 117.00,427.67 119.08,430.00 121.00 C432.33 122.92,434.83 125.57,434.00 126.50 C433.17 127.43,428.17 126.77,425.00 126.60 C421.83 126.43,417.83 126.27,415.00 125.50 C412.17 124.73,409.75 123.58,408.00 122.00 C406.25 120.42,405.08 119.17,404.50 116.00 C403.92 112.83,403.58 104.17,404.50 103.00 Z" fill="#5a3cda" opacity="0.8"/>
<path d="M404.80 91.00 C405.47 88.50,408.30 88.83,409.00 91.00 C409.70 93.17,409.67 101.50,409.00 104.00 C408.33 106.50,405.70 108.17,405.00 106.00 C404.30 103.83,404.13 93.50,404.80 91.00 Z" fill="#5a40d8" opacity="0.6"/>
</g>
<g filter="url(#b06)">
<path d="M442.50 57.80 C441.03 57.75,438.92 58.25,437.00 59.20 C435.08 60.15,432.83 62.07,431.00 63.50 C429.17 64.93,427.50 66.30,426.00 67.80 C424.50 69.30,423.08 70.80,422.00 72.50 C420.92 74.20,420.13 76.13,419.50 78.00 C418.87 79.87,418.52 81.87,418.20 83.70 C417.88 85.53,417.65 87.03,417.60 89.00 C417.55 90.97,417.42 94.07,417.90 95.50 C418.38 96.93,419.40 97.48,420.50 97.60 C421.60 97.72,423.85 97.30,424.50 96.20 C425.15 95.10,424.28 92.65,424.40 91.00 C424.52 89.35,424.52 87.52,425.20 86.30 C425.88 85.08,427.37 84.00,428.50 83.70 C429.63 83.40,430.67 84.95,432.00 84.50 C433.33 84.05,435.00 82.42,436.50 81.00 C438.00 79.58,439.58 77.83,441.00 76.00 C442.42 74.17,444.03 71.92,445.00 70.00 C445.97 68.08,446.67 66.25,446.80 64.50 C446.93 62.75,446.52 60.62,445.80 59.50 C445.08 58.38,443.97 57.85,442.50 57.80 Z" fill="#da2c46" />
<path d="M432.00 84.50 C432.42 83.50,435.00 82.42,436.50 81.00 C438.00 79.58,440.08 76.33,441.00 76.00 C441.92 75.67,442.50 77.67,442.00 79.00 C441.50 80.33,439.33 82.67,438.00 84.00 C436.67 85.33,435.00 86.92,434.00 87.00 C433.00 87.08,431.58 85.50,432.00 84.50 Z" fill="#e890a0" opacity="0.7"/>
</g></g><g transform="translate(896 0) scale(-1 1)"><path d="M452.00 22.00 C451.33 21.67,449.17 20.67,448.00 20.00 C446.83 19.33,446.00 18.33,445.00 18.00 C444.00 17.67,443.33 17.75,442.00 18.00 C440.67 18.25,438.33 18.33,437.00 19.50 C435.67 20.67,434.58 22.75,434.00 25.00 C433.42 27.25,433.42 30.50,433.50 33.00 C433.58 35.50,434.08 38.03,434.50 40.00 C434.92 41.97,436.82 43.92,436.00 44.80 C435.18 45.68,431.60 44.85,429.60 45.30 C427.60 45.75,425.68 46.38,424.00 47.50 C422.32 48.62,420.75 50.42,419.50 52.00 C418.25 53.58,417.58 55.05,416.50 57.00 C415.42 58.95,414.10 61.27,413.00 63.70 C411.90 66.13,410.82 68.95,409.90 71.60 C408.98 74.25,408.27 76.53,407.50 79.60 C406.73 82.67,405.78 86.60,405.30 90.00 C404.82 93.40,404.72 96.33,404.60 100.00 C404.48 103.67,404.45 108.67,404.60 112.00 C404.75 115.33,405.02 117.92,405.50 120.00 C405.98 122.08,406.58 123.33,407.50 124.50 C408.42 125.67,409.92 126.42,411.00 127.00 C412.08 127.58,414.50 127.58,414.00 128.00 C413.50 128.42,409.58 128.67,408.00 129.50 C406.42 130.33,405.17 131.42,404.50 133.00 C403.83 134.58,403.83 136.92,404.00 139.00 C404.17 141.08,404.67 143.92,405.50 145.50 C406.33 147.08,407.75 148.00,409.00 148.50 C410.25 149.00,411.67 148.65,413.00 148.50 C414.33 148.35,415.83 147.68,417.00 147.60 C418.17 147.52,418.83 147.77,420.00 148.00 C421.17 148.23,422.92 148.50,424.00 149.00 C425.08 149.50,425.97 149.83,426.50 151.00 C427.03 152.17,426.95 154.17,427.20 156.00 C427.45 157.83,427.53 160.00,428.00 162.00 C428.47 164.00,428.67 166.78,430.00 168.00 C431.33 169.22,433.67 169.05,436.00 169.30 C438.33 169.55,441.33 169.47,444.00 169.50 C446.67 169.53,450.67 169.50,452.00 169.50 L452 169.5 L452 22 Z" fill="#e3e3e5"/>
<path d="M452 128 L414 128 C408 129,404 132,404 139 C404 146,408 149,413 148.5 C416 148,418 147.5,420 148 C424 149,426 150,427 152 C427 158,428 164,430 168 C434 169.5,444 169.5,452 169.5 Z" fill="#e8e8ea"/>
<path d="M452 45 L452 18 C450 19,447 17.5,442 18 C436 19,433 26,433.5 33 C434 39,435 43,436 45 Z" fill="#e9e9eb"/>
<path d="M448.00 20.00 C448.00 20.00,448.50 20.33,448.00 20.00 C447.50 19.67,446.00 18.33,445.00 18.00 C444.00 17.67,443.33 17.75,442.00 18.00 C440.67 18.25,438.33 18.33,437.00 19.50 C435.67 20.67,434.58 22.75,434.00 25.00 C433.42 27.25,433.42 30.50,433.50 33.00 C433.58 35.50,434.08 38.03,434.50 40.00 C434.92 41.97,436.82 43.92,436.00 44.80 C435.18 45.68,431.60 44.85,429.60 45.30 C427.60 45.75,425.68 46.38,424.00 47.50 C422.32 48.62,420.75 50.42,419.50 52.00 C418.25 53.58,417.58 55.05,416.50 57.00 C415.42 58.95,414.10 61.27,413.00 63.70 C411.90 66.13,410.82 68.95,409.90 71.60 C408.98 74.25,408.27 76.53,407.50 79.60 C406.73 82.67,405.78 86.60,405.30 90.00 C404.82 93.40,404.72 96.33,404.60 100.00 C404.48 103.67,404.45 108.67,404.60 112.00 C404.75 115.33,405.02 117.92,405.50 120.00 C405.98 122.08,406.58 123.33,407.50 124.50 C408.42 125.67,409.92 126.42,411.00 127.00 C412.08 127.58,414.50 127.58,414.00 128.00 C413.50 128.42,409.58 128.67,408.00 129.50 C406.42 130.33,405.17 131.42,404.50 133.00 C403.83 134.58,403.83 136.92,404.00 139.00 C404.17 141.08,404.67 143.92,405.50 145.50 C406.33 147.08,407.75 148.00,409.00 148.50 C410.25 149.00,411.67 148.65,413.00 148.50 C414.33 148.35,415.83 147.68,417.00 147.60 C418.17 147.52,418.83 147.77,420.00 148.00 C421.17 148.23,422.92 148.50,424.00 149.00 C425.08 149.50,425.97 149.83,426.50 151.00 C427.03 152.17,426.95 154.17,427.20 156.00 C427.45 157.83,427.53 160.00,428.00 162.00 C428.47 164.00,428.67 166.78,430.00 168.00 C431.33 169.22,433.67 169.05,436.00 169.30 C438.33 169.55,442.00 169.47,444.00 169.50 C446.00 169.53,447.33 169.50,448.00 169.50" fill="none" stroke="#c8c8cc" stroke-width="0.7"/>
<g fill="none" stroke="#d0d0d4" stroke-width="0.5">
<path d="M414 128 C430 126,440 127,452 127"/>
<path d="M420 148 C428 146,436 142,440 135 C443 131,446 130,452 130"/>
<path d="M412 135 C418 134,424 136,428 140"/>
<path d="M432 152 C436 156,440 160,446 162"/>
<path d="M448 130 L448 169"/>
<path d="M448 20 L448 44"/>
<path d="M440 22 C437 30,438 38,441 44"/>
</g>
<g filter="url(#b06)">
<path d="M453.00 61.00 C452.00 50.17,448.33 61.50,447.00 62.50 C445.67 63.50,446.00 64.75,445.00 67.00 C444.00 69.25,442.67 73.00,441.00 76.00 C439.33 79.00,437.00 82.50,435.00 85.00 C433.00 87.50,430.33 89.08,429.00 91.00 C427.67 92.92,426.17 95.67,427.00 96.50 C427.83 97.33,431.83 95.58,434.00 96.00 C436.17 96.42,438.67 96.67,440.00 99.00 C441.33 101.33,441.42 105.33,442.00 110.00 C442.58 114.67,441.67 124.08,443.50 127.00 C445.33 129.92,451.42 138.50,453.00 127.50 C454.58 116.50,454.00 71.83,453.00 61.00 Z" fill="#eeeeef" opacity="0.9"/>
</g>
<g filter="url(#b06)">
<path d="M453.00 44.30 C450.83 41.50,443.83 44.12,440.00 44.20 C436.17 44.28,432.58 44.33,430.00 44.80 C427.42 45.27,426.17 45.88,424.50 47.00 C422.83 48.12,421.22 50.00,420.00 51.50 C418.78 53.00,417.73 54.75,417.20 56.00 C416.67 57.25,416.25 58.17,416.80 59.00 C417.35 59.83,418.97 60.62,420.50 61.00 C422.03 61.38,424.25 61.42,426.00 61.30 C427.75 61.18,429.17 60.73,431.00 60.30 C432.83 59.87,434.83 59.03,437.00 58.70 C439.17 58.37,441.33 57.92,444.00 58.30 C446.67 58.68,451.50 63.33,453.00 61.00 C454.50 58.67,455.17 47.10,453.00 44.30 Z" fill="#4a28dc" />
<path d="M453.00 45.50 C451.17 42.67,444.33 44.75,442.00 45.50 C439.67 46.25,439.42 48.25,439.00 50.00 C438.58 51.75,438.83 54.42,439.50 56.00 C440.17 57.58,441.58 58.50,443.00 59.50 C444.42 60.50,446.33 61.50,448.00 62.00 C449.67 62.50,452.17 65.25,453.00 62.50 C453.83 59.75,454.83 48.33,453.00 45.50 Z" fill="#7a6ad2" opacity="0.75"/>
</g>
<g filter="url(#b15)">
<path d="M404.50 89.50 C406.33 88.17,411.08 88.83,415.00 89.00 C418.92 89.17,423.53 89.83,428.00 90.50 C432.47 91.17,439.47 90.75,441.80 93.00 C444.13 95.25,442.00 100.25,442.00 104.00 C442.00 107.75,442.13 112.83,441.80 115.50 C441.47 118.17,440.85 118.72,440.00 120.00 C439.15 121.28,438.37 122.20,436.70 123.20 C435.03 124.20,431.90 125.43,430.00 126.00 C428.10 126.57,427.30 126.57,425.30 126.60 C423.30 126.63,420.22 126.55,418.00 126.20 C415.78 125.85,413.73 125.37,412.00 124.50 C410.27 123.63,408.85 122.58,407.60 121.00 C406.35 119.42,405.13 117.33,404.50 115.00 C403.87 112.67,403.88 110.00,403.80 107.00 C403.72 104.00,403.88 99.92,404.00 97.00 C404.12 94.08,402.67 90.83,404.50 89.50 Z" fill="#9a92de" />
<path d="M410.00 94.00 C413.33 92.42,422.83 93.17,428.00 93.50 C433.17 93.83,438.83 92.92,441.00 96.00 C443.17 99.08,441.67 108.17,441.00 112.00 C440.33 115.83,439.33 117.83,437.00 119.00 C434.67 120.17,430.50 120.17,427.00 119.00 C423.50 117.83,419.17 114.67,416.00 112.00 C412.83 109.33,409.00 106.00,408.00 103.00 C407.00 100.00,406.67 95.58,410.00 94.00 Z" fill="#c8c3e8" opacity="0.7"/>
<path d="M404.50 103.00 C405.42 101.83,407.42 107.00,410.00 109.00 C412.58 111.00,416.67 113.00,420.00 115.00 C423.33 117.00,427.67 119.08,430.00 121.00 C432.33 122.92,434.83 125.57,434.00 126.50 C433.17 127.43,428.17 126.77,425.00 126.60 C421.83 126.43,417.83 126.27,415.00 125.50 C412.17 124.73,409.75 123.58,408.00 122.00 C406.25 120.42,405.08 119.17,404.50 116.00 C403.92 112.83,403.58 104.17,404.50 103.00 Z" fill="#5a3cda" opacity="0.8"/>
<path d="M404.80 91.00 C405.47 88.50,408.30 88.83,409.00 91.00 C409.70 93.17,409.67 101.50,409.00 104.00 C408.33 106.50,405.70 108.17,405.00 106.00 C404.30 103.83,404.13 93.50,404.80 91.00 Z" fill="#5a40d8" opacity="0.6"/>
</g>
<g filter="url(#b06)">
<path d="M442.50 57.80 C441.03 57.75,438.92 58.25,437.00 59.20 C435.08 60.15,432.83 62.07,431.00 63.50 C429.17 64.93,427.50 66.30,426.00 67.80 C424.50 69.30,423.08 70.80,422.00 72.50 C420.92 74.20,420.13 76.13,419.50 78.00 C418.87 79.87,418.52 81.87,418.20 83.70 C417.88 85.53,417.65 87.03,417.60 89.00 C417.55 90.97,417.42 94.07,417.90 95.50 C418.38 96.93,419.40 97.48,420.50 97.60 C421.60 97.72,423.85 97.30,424.50 96.20 C425.15 95.10,424.28 92.65,424.40 91.00 C424.52 89.35,424.52 87.52,425.20 86.30 C425.88 85.08,427.37 84.00,428.50 83.70 C429.63 83.40,430.67 84.95,432.00 84.50 C433.33 84.05,435.00 82.42,436.50 81.00 C438.00 79.58,439.58 77.83,441.00 76.00 C442.42 74.17,444.03 71.92,445.00 70.00 C445.97 68.08,446.67 66.25,446.80 64.50 C446.93 62.75,446.52 60.62,445.80 59.50 C445.08 58.38,443.97 57.85,442.50 57.80 Z" fill="#da2c46" />
<path d="M432.00 84.50 C432.42 83.50,435.00 82.42,436.50 81.00 C438.00 79.58,440.08 76.33,441.00 76.00 C441.92 75.67,442.50 77.67,442.00 79.00 C441.50 80.33,439.33 82.67,438.00 84.00 C436.67 85.33,435.00 86.92,434.00 87.00 C433.00 87.08,431.58 85.50,432.00 84.50 Z" fill="#e890a0" opacity="0.7"/>
</g></g></g>
<g id="sagB"><path d="M530.30 100.00 C530.72 98.97,531.50 98.10,532.50 97.30 C533.50 96.50,535.50 96.75,536.30 95.20 C537.10 93.65,537.08 90.53,537.30 88.00 C537.52 85.47,537.23 82.67,537.60 80.00 C537.97 77.33,538.60 74.08,539.50 72.00 C540.40 69.92,541.58 68.75,543.00 67.50 C544.42 66.25,546.38 65.08,548.00 64.50 C549.62 63.92,551.03 63.95,552.70 64.00 C554.37 64.05,556.00 64.33,558.00 64.80 C560.00 65.27,563.12 67.13,564.70 66.80 C566.28 66.47,566.42 63.73,567.50 62.80 C568.58 61.87,569.45 61.70,571.20 61.20 C572.95 60.70,575.53 60.17,578.00 59.80 C580.47 59.43,583.17 59.17,586.00 59.00 C588.83 58.83,591.83 58.80,595.00 58.80 C598.17 58.80,602.00 58.88,605.00 59.00 C608.00 59.12,610.33 59.28,613.00 59.50 C615.67 59.72,618.17 59.88,621.00 60.30 C623.83 60.72,626.83 61.30,630.00 62.00 C633.17 62.70,637.00 63.78,640.00 64.50 C643.00 65.22,645.70 65.77,648.00 66.30 C650.30 66.83,652.30 67.00,653.80 67.70 C655.30 68.40,655.97 69.65,657.00 70.50 C658.03 71.35,658.58 72.58,660.00 72.80 C661.42 73.02,663.55 71.95,665.50 71.80 C667.45 71.65,669.78 71.65,671.70 71.90 C673.62 72.15,675.42 72.60,677.00 73.30 C678.58 74.00,680.23 75.07,681.20 76.10 C682.17 77.13,682.62 78.45,682.80 79.50 C682.98 80.55,682.68 81.23,682.30 82.40 C681.92 83.57,681.22 85.27,680.50 86.50 C679.78 87.73,679.08 88.75,678.00 89.80 C676.92 90.85,675.40 91.93,674.00 92.80 C672.60 93.67,671.10 94.30,669.60 95.00 C668.10 95.70,666.40 96.47,665.00 97.00 C663.60 97.53,662.45 97.95,661.20 98.20 C659.95 98.45,658.57 98.50,657.50 98.50 C656.43 98.50,655.75 97.70,654.80 98.20 C653.85 98.70,652.85 100.43,651.80 101.50 C650.75 102.57,650.05 103.43,648.50 104.60 C646.95 105.77,644.60 107.45,642.50 108.50 C640.40 109.55,638.32 110.12,635.90 110.90 C633.48 111.68,630.47 112.50,628.00 113.20 C625.53 113.90,623.93 114.47,621.10 115.10 C618.27 115.73,614.52 116.47,611.00 117.00 C607.48 117.53,604.17 118.05,600.00 118.30 C595.83 118.55,590.80 118.62,586.00 118.50 C581.20 118.38,576.37 117.95,571.20 117.60 C566.03 117.25,560.23 116.87,555.00 116.40 C549.77 115.93,543.30 115.53,539.80 114.80 C536.30 114.07,535.55 113.23,534.00 112.00 C532.45 110.77,531.17 108.82,530.50 107.40 C529.83 105.98,530.03 104.73,530.00 103.50 C529.97 102.27,529.88 101.03,530.30 100.00 Z" fill="#e1e1e3" stroke="#c8c8cc" stroke-width="0.7"/>
<path d="M654.8 98.2 C657 94,657.5 80,655.9 74 C656.5 72,658 71.5,660 72.8" fill="none" stroke="#d0d0d4" stroke-width="0.5"/>
<path d="M537.90 79.70 C538.23 77.20,538.65 74.03,539.50 72.00 C540.35 69.97,541.58 68.75,543.00 67.50 C544.42 66.25,546.38 65.08,548.00 64.50 C549.62 63.92,551.03 63.95,552.70 64.00 C554.37 64.05,556.00 64.33,558.00 64.80 C560.00 65.27,563.12 65.43,564.70 66.80 C566.28 68.17,566.70 70.47,567.50 73.00 C568.30 75.53,569.25 78.83,569.50 82.00 C569.75 85.17,569.58 89.42,569.00 92.00 C568.42 94.58,567.50 96.28,566.00 97.50 C564.50 98.72,562.67 98.97,560.00 99.30 C557.33 99.63,553.00 99.80,550.00 99.50 C547.00 99.20,543.92 98.42,542.00 97.50 C540.08 96.58,539.25 95.75,538.50 94.00 C537.75 92.25,537.60 89.38,537.50 87.00 C537.40 84.62,537.57 82.20,537.90 79.70 Z" fill="#dcdcde" stroke="#cacace" stroke-width="0.5"/>
<g fill="none" stroke="#cfcfd3" stroke-width="0.5">
<path d="M545 72 C550 76,552 82,550 88"/>
<path d="M556 68 C560 74,561 82,558 90"/>
<path d="M532 104 C545 102,560 103,572 108"/>
<path d="M541 96 C548 98,556 98,562 99"/>
<path d="M575 112 C590 113,610 112,628 108"/>
</g>
<g filter="url(#b06)">
<path d="M564.70 70.50 C565.02 68.92,565.42 66.95,566.50 65.50 C567.58 64.05,569.28 62.72,571.20 61.80 C573.12 60.88,575.53 60.42,578.00 60.00 C580.47 59.58,583.17 59.47,586.00 59.30 C588.83 59.13,591.83 59.02,595.00 59.00 C598.17 58.98,603.00 59.12,605.00 59.20 C607.00 59.28,606.70 58.37,607.00 59.50 C607.30 60.63,606.88 63.92,606.80 66.00 C606.72 68.08,607.30 70.75,606.50 72.00 C605.70 73.25,603.92 72.97,602.00 73.50 C600.08 74.03,597.17 74.62,595.00 75.20 C592.83 75.78,590.58 76.28,589.00 77.00 C587.42 77.72,586.50 78.67,585.50 79.50 C584.50 80.33,583.55 81.00,583.00 82.00 C582.45 83.00,582.12 84.25,582.20 85.50 C582.28 86.75,582.78 88.28,583.50 89.50 C584.22 90.72,585.25 91.88,586.50 92.80 C587.75 93.72,589.13 94.48,591.00 95.00 C592.87 95.52,595.20 95.73,597.70 95.90 C600.20 96.07,604.58 95.32,606.00 96.00 C607.42 96.68,606.28 98.67,606.20 100.00 C606.12 101.33,606.87 103.33,605.50 104.00 C604.13 104.67,600.63 104.20,598.00 104.00 C595.37 103.80,592.37 103.38,589.70 102.80 C587.03 102.22,584.28 101.47,582.00 100.50 C579.72 99.53,577.80 98.47,576.00 97.00 C574.20 95.53,572.62 93.53,571.20 91.70 C569.78 89.87,568.48 87.95,567.50 86.00 C566.52 84.05,565.78 81.83,565.30 80.00 C564.82 78.17,564.70 76.58,564.60 75.00 C564.50 73.42,564.38 72.08,564.70 70.50 Z" fill="#3a12e2" />
<path d="M590.00 66.00 C591.67 63.75,597.20 63.58,600.00 63.00 C602.80 62.42,605.70 61.00,606.80 62.50 C607.90 64.00,607.40 70.18,606.60 72.00 C605.80 73.82,603.93 72.90,602.00 73.40 C600.07 73.90,597.00 74.48,595.00 75.00 C593.00 75.52,590.83 78.00,590.00 76.50 C589.17 75.00,588.33 68.25,590.00 66.00 Z" fill="#6e58d2" opacity="0.85"/>
<path d="M599.00 88.00 C599.75 85.58,602.67 86.17,604.00 86.50 C605.33 86.83,606.50 87.75,607.00 90.00 C607.50 92.25,607.67 97.67,607.00 100.00 C606.33 102.33,604.25 103.83,603.00 104.00 C601.75 104.17,600.17 103.67,599.50 101.00 C598.83 98.33,598.25 90.42,599.00 88.00 Z" fill="#e0405a" opacity="0.9"/>
<path d="M608.40 82.40 C609.63 81.18,610.58 80.00,612.70 79.30 C614.82 78.60,618.30 78.20,621.10 78.20 C623.90 78.20,627.40 78.60,629.50 79.30 C631.60 80.00,632.63 80.83,633.70 82.40 C634.77 83.97,635.72 86.42,635.90 88.70 C636.08 90.98,635.17 93.98,634.80 96.10 C634.43 98.22,634.58 99.63,633.70 101.40 C632.82 103.17,631.07 105.65,629.50 106.70 C627.93 107.75,626.05 108.05,624.30 107.70 C622.55 107.35,620.93 105.47,619.00 104.60 C617.07 103.73,614.82 103.22,612.70 102.50 C610.58 101.78,607.72 101.72,606.30 100.30 C604.88 98.88,604.37 96.28,604.20 94.00 C604.03 91.72,604.60 88.53,605.30 86.60 C606.00 84.67,607.17 83.62,608.40 82.40 Z" fill="#dc3e5c" />
<path d="M611.00 83.00 C612.50 81.25,615.50 80.83,618.00 80.50 C620.50 80.17,625.00 79.75,626.00 81.00 C627.00 82.25,625.67 86.17,624.00 88.00 C622.33 89.83,618.50 91.50,616.00 92.00 C613.50 92.50,609.83 92.50,609.00 91.00 C608.17 89.50,609.50 84.75,611.00 83.00 Z" fill="#e8708a" opacity="0.55"/>
<path d="M627.40 86.60 C628.27 84.48,630.02 82.40,631.60 80.30 C633.18 78.20,635.48 76.28,636.90 74.00 C638.32 71.72,638.52 68.02,640.10 66.60 C641.68 65.18,644.30 65.32,646.40 65.50 C648.50 65.68,651.12 66.28,652.70 67.70 C654.28 69.12,655.55 71.55,655.90 74.00 C656.25 76.45,655.68 79.58,654.80 82.40 C653.92 85.22,652.18 88.43,650.60 90.90 C649.02 93.37,647.05 95.80,645.30 97.20 C643.55 98.60,642.38 98.77,640.10 99.30 C637.82 99.83,633.72 100.40,631.60 100.40 C629.48 100.40,628.27 100.53,627.40 99.30 C626.53 98.07,626.40 95.12,626.40 93.00 C626.40 90.88,626.53 88.72,627.40 86.60 Z" fill="#7060d4" />
<path d="M640.50 66.20 C641.15 64.45,644.37 65.25,646.40 65.50 C648.43 65.75,651.12 66.28,652.70 67.70 C654.28 69.12,655.55 71.55,655.90 74.00 C656.25 76.45,655.53 80.07,654.80 82.40 C654.07 84.73,652.80 86.73,651.50 88.00 C650.20 89.27,648.25 90.67,647.00 90.00 C645.75 89.33,644.75 86.33,644.00 84.00 C643.25 81.67,643.08 78.97,642.50 76.00 C641.92 73.03,639.85 67.95,640.50 66.20 Z" fill="#3c10ea" />
</g></g>
<g transform="translate(0 181)"><g id="corC"><g transform="translate(270 55) scale(0.17135)"><path d="M296.00 38.00 C291.67 35.67,281.00 27.50,270.00 24.00 C259.00 20.50,243.33 18.00,230.00 17.00 C216.67 16.00,206.67 16.33,190.00 18.00 C173.33 19.67,148.33 20.83,130.00 27.00 C111.67 33.17,94.17 43.67,80.00 55.00 C65.83 66.33,54.17 80.83,45.00 95.00 C35.83 109.17,29.67 124.17,25.00 140.00 C20.33 155.83,17.83 173.33,17.00 190.00 C16.17 206.67,17.50 224.17,20.00 240.00 C22.50 255.83,27.00 270.83,32.00 285.00 C37.00 299.17,41.17 312.83,50.00 325.00 C58.83 337.17,70.83 348.83,85.00 358.00 C99.17 367.17,116.67 374.33,135.00 380.00 C153.33 385.67,175.83 389.50,195.00 392.00 C214.17 394.50,233.17 394.83,250.00 395.00 C266.83 395.17,288.33 393.33,296.00 393.00 L296 36 Z" fill="#e2e2e4"/>
<path d="M292.00 34.00 C288.33 32.33,280.33 26.83,270.00 24.00 C259.67 21.17,243.33 18.00,230.00 17.00 C216.67 16.00,206.67 16.33,190.00 18.00 C173.33 19.67,148.33 20.83,130.00 27.00 C111.67 33.17,94.17 43.67,80.00 55.00 C65.83 66.33,54.17 80.83,45.00 95.00 C35.83 109.17,29.67 124.17,25.00 140.00 C20.33 155.83,17.83 173.33,17.00 190.00 C16.17 206.67,17.50 224.17,20.00 240.00 C22.50 255.83,27.00 270.83,32.00 285.00 C37.00 299.17,41.17 312.83,50.00 325.00 C58.83 337.17,70.83 348.83,85.00 358.00 C99.17 367.17,116.67 374.33,135.00 380.00 C153.33 385.67,175.83 389.50,195.00 392.00 C214.17 394.50,233.83 399.67,250.00 395.00 C266.17 390.33,285.00 369.17,292.00 364.00" fill="none" stroke="#c8c8cc" stroke-width="4"/>
<g filter="url(#bc)">
<path d="M30.00 150.00 C33.33 128.33,36.67 115.00,45.00 100.00 C53.33 85.00,65.83 70.83,80.00 60.00 C94.17 49.17,118.33 26.67,130.00 35.00 C141.67 43.33,151.67 92.50,150.00 110.00 C148.33 127.50,126.67 125.00,120.00 140.00 C113.33 155.00,110.00 175.83,110.00 200.00 C110.00 224.17,130.83 270.00,120.00 285.00 C109.17 300.00,60.83 299.17,45.00 290.00 C29.17 280.83,27.50 253.33,25.00 230.00 C22.50 206.67,26.67 171.67,30.00 150.00 Z" fill="#bcb8ea" opacity="0.9"/>
<path d="M310.00 40.00 C306.67 32.33,300.00 33.33,290.00 30.00 C280.00 26.67,265.00 22.00,250.00 20.00 C235.00 18.00,216.67 17.17,200.00 18.00 C183.33 18.83,166.67 20.50,150.00 25.00 C133.33 29.50,114.67 35.83,100.00 45.00 C85.33 54.17,64.50 70.83,62.00 80.00 C59.50 89.17,78.67 93.33,85.00 100.00 C91.33 106.67,89.17 120.00,100.00 120.00 C110.83 120.00,133.33 106.67,150.00 100.00 C166.67 93.33,173.33 84.00,200.00 80.00 C226.67 76.00,291.67 82.67,310.00 76.00 C328.33 69.33,313.33 47.67,310.00 40.00 Z" fill="#6c62e2" />
<path d="M110.00 62.00 C121.33 52.83,140.00 48.67,160.00 45.00 C180.00 41.33,208.33 40.00,230.00 40.00 C251.67 40.00,276.67 43.33,290.00 45.00 C303.33 46.67,306.67 44.83,310.00 50.00 C313.33 55.17,321.67 72.33,310.00 76.00 C298.33 79.67,258.33 71.67,240.00 72.00 C221.67 72.33,210.83 74.67,200.00 78.00 C189.17 81.33,183.33 87.00,175.00 92.00 C166.67 97.00,161.67 103.00,150.00 108.00 C138.33 113.00,114.67 123.33,105.00 122.00 C95.33 120.67,91.17 110.00,92.00 100.00 C92.83 90.00,98.67 71.17,110.00 62.00 Z" fill="#4a3ae0" />
<path d="M76.00 128.00 C79.33 120.83,87.67 116.00,100.00 112.00 C112.33 108.00,137.00 104.33,150.00 104.00 C163.00 103.67,174.67 100.67,178.00 110.00 C181.33 119.33,170.33 144.17,170.00 160.00 C169.67 175.83,171.33 190.67,176.00 205.00 C180.67 219.33,202.33 234.83,198.00 246.00 C193.67 257.17,163.33 270.50,150.00 272.00 C136.67 273.50,126.33 262.33,118.00 255.00 C109.67 247.67,104.67 238.83,100.00 228.00 C95.33 217.17,93.33 202.17,90.00 190.00 C86.67 177.83,82.33 165.33,80.00 155.00 C77.67 144.67,72.67 135.17,76.00 128.00 Z" fill="#3424ec" />
<path d="M176.00 92.00 C182.50 79.00,192.67 76.33,205.00 72.00 C217.33 67.67,232.50 66.33,250.00 66.00 C267.50 65.67,300.00 40.00,310.00 70.00 C320.00 100.00,320.00 215.67,310.00 246.00 C300.00 276.33,267.50 252.00,250.00 252.00 C232.50 252.00,217.00 253.83,205.00 246.00 C193.00 238.17,184.50 221.00,178.00 205.00 C171.50 189.00,166.33 168.83,166.00 150.00 C165.67 131.17,169.50 105.00,176.00 92.00 Z" fill="#6a62d0" />
<ellipse cx="232" cy="125" rx="18" ry="8" fill="#aaa4dc"/>
<path d="M100.00 205.00 C102.33 195.50,112.67 200.00,118.00 205.00 C123.33 210.00,124.17 227.17,132.00 235.00 C139.83 242.83,152.83 248.67,165.00 252.00 C177.17 255.33,192.50 256.33,205.00 255.00 C217.50 253.67,229.50 245.67,240.00 244.00 C250.50 242.33,261.67 242.00,268.00 245.00 C274.33 248.00,277.67 252.83,278.00 262.00 C278.33 271.17,276.33 288.67,270.00 300.00 C263.67 311.33,252.50 323.67,240.00 330.00 C227.50 336.33,210.00 338.83,195.00 338.00 C180.00 337.17,162.17 331.33,150.00 325.00 C137.83 318.67,129.67 310.50,122.00 300.00 C114.33 289.50,107.67 277.83,104.00 262.00 C100.33 246.17,97.67 214.50,100.00 205.00 Z" fill="#8848bc" />
<path d="M95.00 200.00 C97.50 195.33,107.00 195.83,112.00 200.00 C117.00 204.17,125.33 218.33,125.00 225.00 C124.67 231.67,114.67 239.50,110.00 240.00 C105.33 240.50,99.50 234.67,97.00 228.00 C94.50 221.33,92.50 204.67,95.00 200.00 Z" fill="#a070c8" opacity="0.7"/>
</g></g><g transform="translate(640 0) scale(-1 1)"><g transform="translate(270 55) scale(0.17135)"><path d="M296.00 38.00 C291.67 35.67,281.00 27.50,270.00 24.00 C259.00 20.50,243.33 18.00,230.00 17.00 C216.67 16.00,206.67 16.33,190.00 18.00 C173.33 19.67,148.33 20.83,130.00 27.00 C111.67 33.17,94.17 43.67,80.00 55.00 C65.83 66.33,54.17 80.83,45.00 95.00 C35.83 109.17,29.67 124.17,25.00 140.00 C20.33 155.83,17.83 173.33,17.00 190.00 C16.17 206.67,17.50 224.17,20.00 240.00 C22.50 255.83,27.00 270.83,32.00 285.00 C37.00 299.17,41.17 312.83,50.00 325.00 C58.83 337.17,70.83 348.83,85.00 358.00 C99.17 367.17,116.67 374.33,135.00 380.00 C153.33 385.67,175.83 389.50,195.00 392.00 C214.17 394.50,233.17 394.83,250.00 395.00 C266.83 395.17,288.33 393.33,296.00 393.00 L296 36 Z" fill="#e2e2e4"/>
<path d="M292.00 34.00 C288.33 32.33,280.33 26.83,270.00 24.00 C259.67 21.17,243.33 18.00,230.00 17.00 C216.67 16.00,206.67 16.33,190.00 18.00 C173.33 19.67,148.33 20.83,130.00 27.00 C111.67 33.17,94.17 43.67,80.00 55.00 C65.83 66.33,54.17 80.83,45.00 95.00 C35.83 109.17,29.67 124.17,25.00 140.00 C20.33 155.83,17.83 173.33,17.00 190.00 C16.17 206.67,17.50 224.17,20.00 240.00 C22.50 255.83,27.00 270.83,32.00 285.00 C37.00 299.17,41.17 312.83,50.00 325.00 C58.83 337.17,70.83 348.83,85.00 358.00 C99.17 367.17,116.67 374.33,135.00 380.00 C153.33 385.67,175.83 389.50,195.00 392.00 C214.17 394.50,233.83 399.67,250.00 395.00 C266.17 390.33,285.00 369.17,292.00 364.00" fill="none" stroke="#c8c8cc" stroke-width="4"/>
<g filter="url(#bc)">
<path d="M30.00 150.00 C33.33 128.33,36.67 115.00,45.00 100.00 C53.33 85.00,65.83 70.83,80.00 60.00 C94.17 49.17,118.33 26.67,130.00 35.00 C141.67 43.33,151.67 92.50,150.00 110.00 C148.33 127.50,126.67 125.00,120.00 140.00 C113.33 155.00,110.00 175.83,110.00 200.00 C110.00 224.17,130.83 270.00,120.00 285.00 C109.17 300.00,60.83 299.17,45.00 290.00 C29.17 280.83,27.50 253.33,25.00 230.00 C22.50 206.67,26.67 171.67,30.00 150.00 Z" fill="#bcb8ea" opacity="0.9"/>
<path d="M310.00 40.00 C306.67 32.33,300.00 33.33,290.00 30.00 C280.00 26.67,265.00 22.00,250.00 20.00 C235.00 18.00,216.67 17.17,200.00 18.00 C183.33 18.83,166.67 20.50,150.00 25.00 C133.33 29.50,114.67 35.83,100.00 45.00 C85.33 54.17,64.50 70.83,62.00 80.00 C59.50 89.17,78.67 93.33,85.00 100.00 C91.33 106.67,89.17 120.00,100.00 120.00 C110.83 120.00,133.33 106.67,150.00 100.00 C166.67 93.33,173.33 84.00,200.00 80.00 C226.67 76.00,291.67 82.67,310.00 76.00 C328.33 69.33,313.33 47.67,310.00 40.00 Z" fill="#6c62e2" />
<path d="M110.00 62.00 C121.33 52.83,140.00 48.67,160.00 45.00 C180.00 41.33,208.33 40.00,230.00 40.00 C251.67 40.00,276.67 43.33,290.00 45.00 C303.33 46.67,306.67 44.83,310.00 50.00 C313.33 55.17,321.67 72.33,310.00 76.00 C298.33 79.67,258.33 71.67,240.00 72.00 C221.67 72.33,210.83 74.67,200.00 78.00 C189.17 81.33,183.33 87.00,175.00 92.00 C166.67 97.00,161.67 103.00,150.00 108.00 C138.33 113.00,114.67 123.33,105.00 122.00 C95.33 120.67,91.17 110.00,92.00 100.00 C92.83 90.00,98.67 71.17,110.00 62.00 Z" fill="#4a3ae0" />
<path d="M76.00 128.00 C79.33 120.83,87.67 116.00,100.00 112.00 C112.33 108.00,137.00 104.33,150.00 104.00 C163.00 103.67,174.67 100.67,178.00 110.00 C181.33 119.33,170.33 144.17,170.00 160.00 C169.67 175.83,171.33 190.67,176.00 205.00 C180.67 219.33,202.33 234.83,198.00 246.00 C193.67 257.17,163.33 270.50,150.00 272.00 C136.67 273.50,126.33 262.33,118.00 255.00 C109.67 247.67,104.67 238.83,100.00 228.00 C95.33 217.17,93.33 202.17,90.00 190.00 C86.67 177.83,82.33 165.33,80.00 155.00 C77.67 144.67,72.67 135.17,76.00 128.00 Z" fill="#3424ec" />
<path d="M176.00 92.00 C182.50 79.00,192.67 76.33,205.00 72.00 C217.33 67.67,232.50 66.33,250.00 66.00 C267.50 65.67,300.00 40.00,310.00 70.00 C320.00 100.00,320.00 215.67,310.00 246.00 C300.00 276.33,267.50 252.00,250.00 252.00 C232.50 252.00,217.00 253.83,205.00 246.00 C193.00 238.17,184.50 221.00,178.00 205.00 C171.50 189.00,166.33 168.83,166.00 150.00 C165.67 131.17,169.50 105.00,176.00 92.00 Z" fill="#6a62d0" />
<ellipse cx="232" cy="125" rx="18" ry="8" fill="#aaa4dc"/>
<path d="M100.00 205.00 C102.33 195.50,112.67 200.00,118.00 205.00 C123.33 210.00,124.17 227.17,132.00 235.00 C139.83 242.83,152.83 248.67,165.00 252.00 C177.17 255.33,192.50 256.33,205.00 255.00 C217.50 253.67,229.50 245.67,240.00 244.00 C250.50 242.33,261.67 242.00,268.00 245.00 C274.33 248.00,277.67 252.83,278.00 262.00 C278.33 271.17,276.33 288.67,270.00 300.00 C263.67 311.33,252.50 323.67,240.00 330.00 C227.50 336.33,210.00 338.83,195.00 338.00 C180.00 337.17,162.17 331.33,150.00 325.00 C137.83 318.67,129.67 310.50,122.00 300.00 C114.33 289.50,107.67 277.83,104.00 262.00 C100.33 246.17,97.67 214.50,100.00 205.00 Z" fill="#8848bc" />
<path d="M95.00 200.00 C97.50 195.33,107.00 195.83,112.00 200.00 C117.00 204.17,125.33 218.33,125.00 225.00 C124.67 231.67,114.67 239.50,110.00 240.00 C105.33 240.50,99.50 234.67,97.00 228.00 C94.50 221.33,92.50 204.67,95.00 200.00 Z" fill="#a070c8" opacity="0.7"/>
</g></g></g></g></g>
<g transform="translate(0 181.2)"><g id="axC"><g><path d="M452.00 22.00 C451.33 21.67,449.17 20.67,448.00 20.00 C446.83 19.33,446.00 18.33,445.00 18.00 C444.00 17.67,443.33 17.75,442.00 18.00 C440.67 18.25,438.33 18.33,437.00 19.50 C435.67 20.67,434.58 22.75,434.00 25.00 C433.42 27.25,433.42 30.50,433.50 33.00 C433.58 35.50,434.08 38.03,434.50 40.00 C434.92 41.97,436.82 43.92,436.00 44.80 C435.18 45.68,431.60 44.85,429.60 45.30 C427.60 45.75,425.68 46.38,424.00 47.50 C422.32 48.62,420.75 50.42,419.50 52.00 C418.25 53.58,417.58 55.05,416.50 57.00 C415.42 58.95,414.10 61.27,413.00 63.70 C411.90 66.13,410.82 68.95,409.90 71.60 C408.98 74.25,408.27 76.53,407.50 79.60 C406.73 82.67,405.78 86.60,405.30 90.00 C404.82 93.40,404.72 96.33,404.60 100.00 C404.48 103.67,404.45 108.67,404.60 112.00 C404.75 115.33,405.02 117.92,405.50 120.00 C405.98 122.08,406.58 123.33,407.50 124.50 C408.42 125.67,409.92 126.42,411.00 127.00 C412.08 127.58,414.50 127.58,414.00 128.00 C413.50 128.42,409.58 128.67,408.00 129.50 C406.42 130.33,405.17 131.42,404.50 133.00 C403.83 134.58,403.83 136.92,404.00 139.00 C404.17 141.08,404.67 143.92,405.50 145.50 C406.33 147.08,407.75 148.00,409.00 148.50 C410.25 149.00,411.67 148.65,413.00 148.50 C414.33 148.35,415.83 147.68,417.00 147.60 C418.17 147.52,418.83 147.77,420.00 148.00 C421.17 148.23,422.92 148.50,424.00 149.00 C425.08 149.50,425.97 149.83,426.50 151.00 C427.03 152.17,426.95 154.17,427.20 156.00 C427.45 157.83,427.53 160.00,428.00 162.00 C428.47 164.00,428.67 166.78,430.00 168.00 C431.33 169.22,433.67 169.05,436.00 169.30 C438.33 169.55,441.33 169.47,444.00 169.50 C446.67 169.53,450.67 169.50,452.00 169.50 L452 169.5 L452 22 Z" fill="#e3e3e5"/>
<path d="M452 128 L414 128 C408 129,404 132,404 139 C404 146,408 149,413 148.5 C416 148,418 147.5,420 148 C424 149,426 150,427 152 C427 158,428 164,430 168 C434 169.5,444 169.5,452 169.5 Z" fill="#e8e8ea"/>
<path d="M452 45 L452 18 C450 19,447 17.5,442 18 C436 19,433 26,433.5 33 C434 39,435 43,436 45 Z" fill="#e9e9eb"/>
<path d="M448.00 20.00 C448.00 20.00,448.50 20.33,448.00 20.00 C447.50 19.67,446.00 18.33,445.00 18.00 C444.00 17.67,443.33 17.75,442.00 18.00 C440.67 18.25,438.33 18.33,437.00 19.50 C435.67 20.67,434.58 22.75,434.00 25.00 C433.42 27.25,433.42 30.50,433.50 33.00 C433.58 35.50,434.08 38.03,434.50 40.00 C434.92 41.97,436.82 43.92,436.00 44.80 C435.18 45.68,431.60 44.85,429.60 45.30 C427.60 45.75,425.68 46.38,424.00 47.50 C422.32 48.62,420.75 50.42,419.50 52.00 C418.25 53.58,417.58 55.05,416.50 57.00 C415.42 58.95,414.10 61.27,413.00 63.70 C411.90 66.13,410.82 68.95,409.90 71.60 C408.98 74.25,408.27 76.53,407.50 79.60 C406.73 82.67,405.78 86.60,405.30 90.00 C404.82 93.40,404.72 96.33,404.60 100.00 C404.48 103.67,404.45 108.67,404.60 112.00 C404.75 115.33,405.02 117.92,405.50 120.00 C405.98 122.08,406.58 123.33,407.50 124.50 C408.42 125.67,409.92 126.42,411.00 127.00 C412.08 127.58,414.50 127.58,414.00 128.00 C413.50 128.42,409.58 128.67,408.00 129.50 C406.42 130.33,405.17 131.42,404.50 133.00 C403.83 134.58,403.83 136.92,404.00 139.00 C404.17 141.08,404.67 143.92,405.50 145.50 C406.33 147.08,407.75 148.00,409.00 148.50 C410.25 149.00,411.67 148.65,413.00 148.50 C414.33 148.35,415.83 147.68,417.00 147.60 C418.17 147.52,418.83 147.77,420.00 148.00 C421.17 148.23,422.92 148.50,424.00 149.00 C425.08 149.50,425.97 149.83,426.50 151.00 C427.03 152.17,426.95 154.17,427.20 156.00 C427.45 157.83,427.53 160.00,428.00 162.00 C428.47 164.00,428.67 166.78,430.00 168.00 C431.33 169.22,433.67 169.05,436.00 169.30 C438.33 169.55,442.00 169.47,444.00 169.50 C446.00 169.53,447.33 169.50,448.00 169.50" fill="none" stroke="#c8c8cc" stroke-width="0.7"/>
<g fill="none" stroke="#d0d0d4" stroke-width="0.5">
<path d="M414 128 C430 126,440 127,452 127"/>
<path d="M420 148 C428 146,436 142,440 135 C443 131,446 130,452 130"/>
<path d="M412 135 C418 134,424 136,428 140"/>
<path d="M432 152 C436 156,440 160,446 162"/>
<path d="M448 130 L448 169"/>
<path d="M448 20 L448 44"/>
<path d="M440 22 C437 30,438 38,441 44"/>
</g><g filter="url(#b06)">
<path d="M453.00 44.30 C450.83 41.67,443.83 44.12,440.00 44.20 C436.17 44.28,432.58 44.33,430.00 44.80 C427.42 45.27,426.17 45.88,424.50 47.00 C422.83 48.12,421.22 50.00,420.00 51.50 C418.78 53.00,417.73 54.67,417.20 56.00 C416.67 57.33,416.25 58.58,416.80 59.50 C417.35 60.42,418.97 61.00,420.50 61.50 C422.03 62.00,424.25 62.33,426.00 62.50 C427.75 62.67,429.17 62.75,431.00 62.50 C432.83 62.25,434.83 61.42,437.00 61.00 C439.17 60.58,441.33 60.17,444.00 60.00 C446.67 59.83,451.50 62.62,453.00 60.00 C454.50 57.38,455.17 46.93,453.00 44.30 Z" fill="#3a26ea" />
<path d="M453.00 45.50 C451.00 42.75,443.33 44.42,441.00 45.50 C438.67 46.58,439.17 49.58,439.00 52.00 C438.83 54.42,438.83 58.33,440.00 60.00 C441.17 61.67,443.83 61.67,446.00 62.00 C448.17 62.33,451.83 64.75,453.00 62.00 C454.17 59.25,455.00 48.25,453.00 45.50 Z" fill="#7458d6" opacity="0.9"/>
</g>
<g filter="url(#b15)">
<path d="M404.50 89.00 C406.33 87.80,411.08 88.63,415.00 88.80 C418.92 88.97,423.53 89.38,428.00 90.00 C432.47 90.62,439.47 90.17,441.80 92.50 C444.13 94.83,442.00 100.42,442.00 104.00 C442.00 107.58,442.13 111.50,441.80 114.00 C441.47 116.50,440.85 117.75,440.00 119.00 C439.15 120.25,438.37 120.70,436.70 121.50 C435.03 122.30,431.90 123.32,430.00 123.80 C428.10 124.28,427.30 124.37,425.30 124.40 C423.30 124.43,420.22 124.40,418.00 124.00 C415.78 123.60,413.73 122.88,412.00 122.00 C410.27 121.12,408.85 120.20,407.60 118.70 C406.35 117.20,405.13 115.28,404.50 113.00 C403.87 110.72,403.88 107.83,403.80 105.00 C403.72 102.17,403.88 98.67,404.00 96.00 C404.12 93.33,402.67 90.20,404.50 89.00 Z" fill="#4a3ee8" />
<path d="M418.00 95.00 C420.50 94.08,426.17 94.17,430.00 94.50 C433.83 94.83,439.17 94.75,441.00 97.00 C442.83 99.25,441.83 105.33,441.00 108.00 C440.17 110.67,438.50 112.33,436.00 113.00 C433.50 113.67,429.00 113.17,426.00 112.00 C423.00 110.83,419.83 108.00,418.00 106.00 C416.17 104.00,415.00 101.83,415.00 100.00 C415.00 98.17,415.50 95.92,418.00 95.00 Z" fill="#d6d2ee" opacity="0.95"/>
<path d="M406.00 95.00 C406.33 92.00,409.17 91.50,410.00 94.00 C410.83 96.50,411.33 107.00,411.00 110.00 C410.67 113.00,408.83 114.50,408.00 112.00 C407.17 109.50,405.67 98.00,406.00 95.00 Z" fill="#3a2ee8" opacity="0.6"/>
</g>
<g filter="url(#b06)">
<path d="M423.00 59.50 C424.42 58.42,428.00 60.00,430.00 60.50 C432.00 61.00,435.00 61.42,435.00 62.50 C435.00 63.58,431.42 65.42,430.00 67.00 C428.58 68.58,427.58 70.83,426.50 72.00 C425.42 73.17,424.33 74.83,423.50 74.00 C422.67 73.17,421.58 69.42,421.50 67.00 C421.42 64.58,421.58 60.58,423.00 59.50 Z" fill="#3a26ea" />
<path d="M442.30 58.70 C441.22 58.45,439.32 59.83,438.00 60.50 C436.68 61.17,435.73 61.70,434.40 62.70 C433.07 63.70,431.32 65.05,430.00 66.50 C428.68 67.95,427.58 69.82,426.50 71.40 C425.42 72.98,424.30 74.42,423.50 76.00 C422.70 77.58,422.28 79.07,421.70 80.90 C421.12 82.73,420.38 84.82,420.00 87.00 C419.62 89.18,419.32 92.25,419.40 94.00 C419.48 95.75,419.65 97.00,420.50 97.50 C421.35 98.00,423.25 98.42,424.50 97.00 C425.75 95.58,426.62 91.17,428.00 89.00 C429.38 86.83,431.47 85.50,432.80 84.00 C434.13 82.50,434.95 81.32,436.00 80.00 C437.05 78.68,438.10 77.60,439.10 76.10 C440.10 74.60,441.20 72.58,442.00 71.00 C442.80 69.42,443.48 68.10,443.90 66.60 C444.32 65.10,444.77 63.32,444.50 62.00 C444.23 60.68,443.38 58.95,442.30 58.70 Z" fill="#8a30c2" />
<path d="M432.00 70.00 C433.17 67.92,435.33 66.50,437.00 65.50 C438.67 64.50,440.92 63.58,442.00 64.00 C443.08 64.42,443.83 66.17,443.50 68.00 C443.17 69.83,441.58 73.00,440.00 75.00 C438.42 77.00,435.67 79.50,434.00 80.00 C432.33 80.50,430.33 79.67,430.00 78.00 C429.67 76.33,430.83 72.08,432.00 70.00 Z" fill="#a262cc" opacity="0.75"/>
<path d="M445.00 57.00 C446.17 55.50,451.67 55.50,453.00 57.00 C454.33 58.50,453.67 64.50,453.00 66.00 C452.33 67.50,450.17 66.00,449.00 66.00 C447.83 66.00,446.67 67.50,446.00 66.00 C445.33 64.50,443.83 58.50,445.00 57.00 Z" fill="#9868cc" opacity="0.85"/>
<path d="M446.00 66.00 C447.50 64.50,451.83 57.33,453.00 65.00 C454.17 72.67,454.00 104.33,453.00 112.00 C452.00 119.67,448.83 112.00,447.00 111.00 C445.17 110.00,444.17 107.17,442.00 106.00 C439.83 104.83,437.00 104.50,434.00 104.00 C431.00 103.50,425.67 104.00,424.00 103.00 C422.33 102.00,422.67 99.67,424.00 98.00 C425.33 96.33,429.33 94.33,432.00 93.00 C434.67 91.67,438.00 91.50,440.00 90.00 C442.00 88.50,443.33 86.67,444.00 84.00 C444.67 81.33,443.67 77.00,444.00 74.00 C444.33 71.00,444.50 67.50,446.00 66.00 Z" fill="#e8e6ee" opacity="0.9"/>
<path d="M429.70 116.50 C430.62 115.80,433.03 115.30,434.00 115.80 C434.97 116.30,435.13 118.30,435.50 119.50 C435.87 120.70,434.62 122.50,436.20 123.00 C437.78 123.50,442.20 122.62,445.00 122.50 C447.80 122.38,451.67 116.42,453.00 122.30 C454.33 128.18,455.07 152.00,453.00 157.80 C450.93 163.60,443.63 157.10,440.60 157.10 C437.57 157.10,436.73 157.55,434.80 157.80 C432.87 158.05,430.70 159.08,429.00 158.60 C427.30 158.12,426.05 156.23,424.60 154.90 C423.15 153.57,421.38 152.05,420.30 150.60 C419.22 149.15,419.07 146.57,418.10 146.20 C417.13 145.83,415.83 148.03,414.50 148.40 C413.17 148.77,411.43 149.00,410.10 148.40 C408.77 147.80,407.22 146.37,406.50 144.80 C405.78 143.23,405.55 140.70,405.80 139.00 C406.05 137.30,406.55 135.93,408.00 134.60 C409.45 133.27,412.22 132.20,414.50 131.00 C416.78 129.80,419.78 128.57,421.70 127.40 C423.62 126.23,424.87 125.23,426.00 124.00 C427.13 122.77,427.88 121.25,428.50 120.00 C429.12 118.75,428.78 117.20,429.70 116.50 Z" fill="#7e1cc6" />
<path d="M437.00 123.00 C440.00 122.05,450.33 116.63,453.00 122.30 C455.67 127.97,454.83 151.38,453.00 157.00 C451.17 162.62,444.67 157.50,442.00 156.00 C439.33 154.50,438.17 151.33,437.00 148.00 C435.83 144.67,435.33 139.33,435.00 136.00 C434.67 132.67,434.67 130.17,435.00 128.00 C435.33 125.83,434.00 123.95,437.00 123.00 Z" fill="#a070cc" opacity="0.75"/>
</g>
<path d="M429.60 157.00 C431.35 155.93,436.10 156.67,440.00 156.60 C443.90 156.53,450.83 154.45,453.00 156.60 C455.17 158.75,455.17 167.33,453.00 169.50 C450.83 171.67,443.50 169.75,440.00 169.60 C436.50 169.45,433.75 169.70,432.00 168.60 C430.25 167.50,429.90 164.93,429.50 163.00 C429.10 161.07,427.85 158.07,429.60 157.00 Z" fill="#ececed" stroke="#d6d6d9" stroke-width="0.5"/></g><g transform="translate(896 0) scale(-1 1)"><path d="M452.00 22.00 C451.33 21.67,449.17 20.67,448.00 20.00 C446.83 19.33,446.00 18.33,445.00 18.00 C444.00 17.67,443.33 17.75,442.00 18.00 C440.67 18.25,438.33 18.33,437.00 19.50 C435.67 20.67,434.58 22.75,434.00 25.00 C433.42 27.25,433.42 30.50,433.50 33.00 C433.58 35.50,434.08 38.03,434.50 40.00 C434.92 41.97,436.82 43.92,436.00 44.80 C435.18 45.68,431.60 44.85,429.60 45.30 C427.60 45.75,425.68 46.38,424.00 47.50 C422.32 48.62,420.75 50.42,419.50 52.00 C418.25 53.58,417.58 55.05,416.50 57.00 C415.42 58.95,414.10 61.27,413.00 63.70 C411.90 66.13,410.82 68.95,409.90 71.60 C408.98 74.25,408.27 76.53,407.50 79.60 C406.73 82.67,405.78 86.60,405.30 90.00 C404.82 93.40,404.72 96.33,404.60 100.00 C404.48 103.67,404.45 108.67,404.60 112.00 C404.75 115.33,405.02 117.92,405.50 120.00 C405.98 122.08,406.58 123.33,407.50 124.50 C408.42 125.67,409.92 126.42,411.00 127.00 C412.08 127.58,414.50 127.58,414.00 128.00 C413.50 128.42,409.58 128.67,408.00 129.50 C406.42 130.33,405.17 131.42,404.50 133.00 C403.83 134.58,403.83 136.92,404.00 139.00 C404.17 141.08,404.67 143.92,405.50 145.50 C406.33 147.08,407.75 148.00,409.00 148.50 C410.25 149.00,411.67 148.65,413.00 148.50 C414.33 148.35,415.83 147.68,417.00 147.60 C418.17 147.52,418.83 147.77,420.00 148.00 C421.17 148.23,422.92 148.50,424.00 149.00 C425.08 149.50,425.97 149.83,426.50 151.00 C427.03 152.17,426.95 154.17,427.20 156.00 C427.45 157.83,427.53 160.00,428.00 162.00 C428.47 164.00,428.67 166.78,430.00 168.00 C431.33 169.22,433.67 169.05,436.00 169.30 C438.33 169.55,441.33 169.47,444.00 169.50 C446.67 169.53,450.67 169.50,452.00 169.50 L452 169.5 L452 22 Z" fill="#e3e3e5"/>
<path d="M452 128 L414 128 C408 129,404 132,404 139 C404 146,408 149,413 148.5 C416 148,418 147.5,420 148 C424 149,426 150,427 152 C427 158,428 164,430 168 C434 169.5,444 169.5,452 169.5 Z" fill="#e8e8ea"/>
<path d="M452 45 L452 18 C450 19,447 17.5,442 18 C436 19,433 26,433.5 33 C434 39,435 43,436 45 Z" fill="#e9e9eb"/>
<path d="M448.00 20.00 C448.00 20.00,448.50 20.33,448.00 20.00 C447.50 19.67,446.00 18.33,445.00 18.00 C444.00 17.67,443.33 17.75,442.00 18.00 C440.67 18.25,438.33 18.33,437.00 19.50 C435.67 20.67,434.58 22.75,434.00 25.00 C433.42 27.25,433.42 30.50,433.50 33.00 C433.58 35.50,434.08 38.03,434.50 40.00 C434.92 41.97,436.82 43.92,436.00 44.80 C435.18 45.68,431.60 44.85,429.60 45.30 C427.60 45.75,425.68 46.38,424.00 47.50 C422.32 48.62,420.75 50.42,419.50 52.00 C418.25 53.58,417.58 55.05,416.50 57.00 C415.42 58.95,414.10 61.27,413.00 63.70 C411.90 66.13,410.82 68.95,409.90 71.60 C408.98 74.25,408.27 76.53,407.50 79.60 C406.73 82.67,405.78 86.60,405.30 90.00 C404.82 93.40,404.72 96.33,404.60 100.00 C404.48 103.67,404.45 108.67,404.60 112.00 C404.75 115.33,405.02 117.92,405.50 120.00 C405.98 122.08,406.58 123.33,407.50 124.50 C408.42 125.67,409.92 126.42,411.00 127.00 C412.08 127.58,414.50 127.58,414.00 128.00 C413.50 128.42,409.58 128.67,408.00 129.50 C406.42 130.33,405.17 131.42,404.50 133.00 C403.83 134.58,403.83 136.92,404.00 139.00 C404.17 141.08,404.67 143.92,405.50 145.50 C406.33 147.08,407.75 148.00,409.00 148.50 C410.25 149.00,411.67 148.65,413.00 148.50 C414.33 148.35,415.83 147.68,417.00 147.60 C418.17 147.52,418.83 147.77,420.00 148.00 C421.17 148.23,422.92 148.50,424.00 149.00 C425.08 149.50,425.97 149.83,426.50 151.00 C427.03 152.17,426.95 154.17,427.20 156.00 C427.45 157.83,427.53 160.00,428.00 162.00 C428.47 164.00,428.67 166.78,430.00 168.00 C431.33 169.22,433.67 169.05,436.00 169.30 C438.33 169.55,442.00 169.47,444.00 169.50 C446.00 169.53,447.33 169.50,448.00 169.50" fill="none" stroke="#c8c8cc" stroke-width="0.7"/>
<g fill="none" stroke="#d0d0d4" stroke-width="0.5">
<path d="M414 128 C430 126,440 127,452 127"/>
<path d="M420 148 C428 146,436 142,440 135 C443 131,446 130,452 130"/>
<path d="M412 135 C418 134,424 136,428 140"/>
<path d="M432 152 C436 156,440 160,446 162"/>
<path d="M448 130 L448 169"/>
<path d="M448 20 L448 44"/>
<path d="M440 22 C437 30,438 38,441 44"/>
</g><g filter="url(#b06)">
<path d="M453.00 44.30 C450.83 41.67,443.83 44.12,440.00 44.20 C436.17 44.28,432.58 44.33,430.00 44.80 C427.42 45.27,426.17 45.88,424.50 47.00 C422.83 48.12,421.22 50.00,420.00 51.50 C418.78 53.00,417.73 54.67,417.20 56.00 C416.67 57.33,416.25 58.58,416.80 59.50 C417.35 60.42,418.97 61.00,420.50 61.50 C422.03 62.00,424.25 62.33,426.00 62.50 C427.75 62.67,429.17 62.75,431.00 62.50 C432.83 62.25,434.83 61.42,437.00 61.00 C439.17 60.58,441.33 60.17,444.00 60.00 C446.67 59.83,451.50 62.62,453.00 60.00 C454.50 57.38,455.17 46.93,453.00 44.30 Z" fill="#3a26ea" />
<path d="M453.00 45.50 C451.00 42.75,443.33 44.42,441.00 45.50 C438.67 46.58,439.17 49.58,439.00 52.00 C438.83 54.42,438.83 58.33,440.00 60.00 C441.17 61.67,443.83 61.67,446.00 62.00 C448.17 62.33,451.83 64.75,453.00 62.00 C454.17 59.25,455.00 48.25,453.00 45.50 Z" fill="#7458d6" opacity="0.9"/>
</g>
<g filter="url(#b15)">
<path d="M404.50 89.00 C406.33 87.80,411.08 88.63,415.00 88.80 C418.92 88.97,423.53 89.38,428.00 90.00 C432.47 90.62,439.47 90.17,441.80 92.50 C444.13 94.83,442.00 100.42,442.00 104.00 C442.00 107.58,442.13 111.50,441.80 114.00 C441.47 116.50,440.85 117.75,440.00 119.00 C439.15 120.25,438.37 120.70,436.70 121.50 C435.03 122.30,431.90 123.32,430.00 123.80 C428.10 124.28,427.30 124.37,425.30 124.40 C423.30 124.43,420.22 124.40,418.00 124.00 C415.78 123.60,413.73 122.88,412.00 122.00 C410.27 121.12,408.85 120.20,407.60 118.70 C406.35 117.20,405.13 115.28,404.50 113.00 C403.87 110.72,403.88 107.83,403.80 105.00 C403.72 102.17,403.88 98.67,404.00 96.00 C404.12 93.33,402.67 90.20,404.50 89.00 Z" fill="#4a3ee8" />
<path d="M418.00 95.00 C420.50 94.08,426.17 94.17,430.00 94.50 C433.83 94.83,439.17 94.75,441.00 97.00 C442.83 99.25,441.83 105.33,441.00 108.00 C440.17 110.67,438.50 112.33,436.00 113.00 C433.50 113.67,429.00 113.17,426.00 112.00 C423.00 110.83,419.83 108.00,418.00 106.00 C416.17 104.00,415.00 101.83,415.00 100.00 C415.00 98.17,415.50 95.92,418.00 95.00 Z" fill="#d6d2ee" opacity="0.95"/>
<path d="M406.00 95.00 C406.33 92.00,409.17 91.50,410.00 94.00 C410.83 96.50,411.33 107.00,411.00 110.00 C410.67 113.00,408.83 114.50,408.00 112.00 C407.17 109.50,405.67 98.00,406.00 95.00 Z" fill="#3a2ee8" opacity="0.6"/>
</g>
<g filter="url(#b06)">
<path d="M423.00 59.50 C424.42 58.42,428.00 60.00,430.00 60.50 C432.00 61.00,435.00 61.42,435.00 62.50 C435.00 63.58,431.42 65.42,430.00 67.00 C428.58 68.58,427.58 70.83,426.50 72.00 C425.42 73.17,424.33 74.83,423.50 74.00 C422.67 73.17,421.58 69.42,421.50 67.00 C421.42 64.58,421.58 60.58,423.00 59.50 Z" fill="#3a26ea" />
<path d="M442.30 58.70 C441.22 58.45,439.32 59.83,438.00 60.50 C436.68 61.17,435.73 61.70,434.40 62.70 C433.07 63.70,431.32 65.05,430.00 66.50 C428.68 67.95,427.58 69.82,426.50 71.40 C425.42 72.98,424.30 74.42,423.50 76.00 C422.70 77.58,422.28 79.07,421.70 80.90 C421.12 82.73,420.38 84.82,420.00 87.00 C419.62 89.18,419.32 92.25,419.40 94.00 C419.48 95.75,419.65 97.00,420.50 97.50 C421.35 98.00,423.25 98.42,424.50 97.00 C425.75 95.58,426.62 91.17,428.00 89.00 C429.38 86.83,431.47 85.50,432.80 84.00 C434.13 82.50,434.95 81.32,436.00 80.00 C437.05 78.68,438.10 77.60,439.10 76.10 C440.10 74.60,441.20 72.58,442.00 71.00 C442.80 69.42,443.48 68.10,443.90 66.60 C444.32 65.10,444.77 63.32,444.50 62.00 C444.23 60.68,443.38 58.95,442.30 58.70 Z" fill="#8a30c2" />
<path d="M432.00 70.00 C433.17 67.92,435.33 66.50,437.00 65.50 C438.67 64.50,440.92 63.58,442.00 64.00 C443.08 64.42,443.83 66.17,443.50 68.00 C443.17 69.83,441.58 73.00,440.00 75.00 C438.42 77.00,435.67 79.50,434.00 80.00 C432.33 80.50,430.33 79.67,430.00 78.00 C429.67 76.33,430.83 72.08,432.00 70.00 Z" fill="#a262cc" opacity="0.75"/>
<path d="M445.00 57.00 C446.17 55.50,451.67 55.50,453.00 57.00 C454.33 58.50,453.67 64.50,453.00 66.00 C452.33 67.50,450.17 66.00,449.00 66.00 C447.83 66.00,446.67 67.50,446.00 66.00 C445.33 64.50,443.83 58.50,445.00 57.00 Z" fill="#9868cc" opacity="0.85"/>
<path d="M446.00 66.00 C447.50 64.50,451.83 57.33,453.00 65.00 C454.17 72.67,454.00 104.33,453.00 112.00 C452.00 119.67,448.83 112.00,447.00 111.00 C445.17 110.00,444.17 107.17,442.00 106.00 C439.83 104.83,437.00 104.50,434.00 104.00 C431.00 103.50,425.67 104.00,424.00 103.00 C422.33 102.00,422.67 99.67,424.00 98.00 C425.33 96.33,429.33 94.33,432.00 93.00 C434.67 91.67,438.00 91.50,440.00 90.00 C442.00 88.50,443.33 86.67,444.00 84.00 C444.67 81.33,443.67 77.00,444.00 74.00 C444.33 71.00,444.50 67.50,446.00 66.00 Z" fill="#e8e6ee" opacity="0.9"/>
<path d="M429.70 116.50 C430.62 115.80,433.03 115.30,434.00 115.80 C434.97 116.30,435.13 118.30,435.50 119.50 C435.87 120.70,434.62 122.50,436.20 123.00 C437.78 123.50,442.20 122.62,445.00 122.50 C447.80 122.38,451.67 116.42,453.00 122.30 C454.33 128.18,455.07 152.00,453.00 157.80 C450.93 163.60,443.63 157.10,440.60 157.10 C437.57 157.10,436.73 157.55,434.80 157.80 C432.87 158.05,430.70 159.08,429.00 158.60 C427.30 158.12,426.05 156.23,424.60 154.90 C423.15 153.57,421.38 152.05,420.30 150.60 C419.22 149.15,419.07 146.57,418.10 146.20 C417.13 145.83,415.83 148.03,414.50 148.40 C413.17 148.77,411.43 149.00,410.10 148.40 C408.77 147.80,407.22 146.37,406.50 144.80 C405.78 143.23,405.55 140.70,405.80 139.00 C406.05 137.30,406.55 135.93,408.00 134.60 C409.45 133.27,412.22 132.20,414.50 131.00 C416.78 129.80,419.78 128.57,421.70 127.40 C423.62 126.23,424.87 125.23,426.00 124.00 C427.13 122.77,427.88 121.25,428.50 120.00 C429.12 118.75,428.78 117.20,429.70 116.50 Z" fill="#7e1cc6" />
<path d="M437.00 123.00 C440.00 122.05,450.33 116.63,453.00 122.30 C455.67 127.97,454.83 151.38,453.00 157.00 C451.17 162.62,444.67 157.50,442.00 156.00 C439.33 154.50,438.17 151.33,437.00 148.00 C435.83 144.67,435.33 139.33,435.00 136.00 C434.67 132.67,434.67 130.17,435.00 128.00 C435.33 125.83,434.00 123.95,437.00 123.00 Z" fill="#a070cc" opacity="0.75"/>
</g>
<path d="M429.60 157.00 C431.35 155.93,436.10 156.67,440.00 156.60 C443.90 156.53,450.83 154.45,453.00 156.60 C455.17 158.75,455.17 167.33,453.00 169.50 C450.83 171.67,443.50 169.75,440.00 169.60 C436.50 169.45,433.75 169.70,432.00 168.60 C430.25 167.50,429.90 164.93,429.50 163.00 C429.10 161.07,427.85 158.07,429.60 157.00 Z" fill="#ececed" stroke="#d6d6d9" stroke-width="0.5"/></g></g></g>
<g transform="translate(0 180)"><g id="sagC"><path d="M530.30 100.00 C530.72 98.97,531.50 98.10,532.50 97.30 C533.50 96.50,535.50 96.75,536.30 95.20 C537.10 93.65,537.08 90.53,537.30 88.00 C537.52 85.47,537.23 82.67,537.60 80.00 C537.97 77.33,538.60 74.08,539.50 72.00 C540.40 69.92,541.58 68.75,543.00 67.50 C544.42 66.25,546.38 65.08,548.00 64.50 C549.62 63.92,551.03 63.95,552.70 64.00 C554.37 64.05,556.00 64.33,558.00 64.80 C560.00 65.27,563.12 67.13,564.70 66.80 C566.28 66.47,566.42 63.73,567.50 62.80 C568.58 61.87,569.45 61.70,571.20 61.20 C572.95 60.70,575.53 60.17,578.00 59.80 C580.47 59.43,583.17 59.17,586.00 59.00 C588.83 58.83,591.83 58.80,595.00 58.80 C598.17 58.80,602.00 58.88,605.00 59.00 C608.00 59.12,610.33 59.28,613.00 59.50 C615.67 59.72,618.17 59.88,621.00 60.30 C623.83 60.72,626.83 61.30,630.00 62.00 C633.17 62.70,637.00 63.78,640.00 64.50 C643.00 65.22,645.70 65.77,648.00 66.30 C650.30 66.83,652.30 67.00,653.80 67.70 C655.30 68.40,655.97 69.65,657.00 70.50 C658.03 71.35,658.58 72.58,660.00 72.80 C661.42 73.02,663.55 71.95,665.50 71.80 C667.45 71.65,669.78 71.65,671.70 71.90 C673.62 72.15,675.42 72.60,677.00 73.30 C678.58 74.00,680.23 75.07,681.20 76.10 C682.17 77.13,682.62 78.45,682.80 79.50 C682.98 80.55,682.68 81.23,682.30 82.40 C681.92 83.57,681.22 85.27,680.50 86.50 C679.78 87.73,679.08 88.75,678.00 89.80 C676.92 90.85,675.40 91.93,674.00 92.80 C672.60 93.67,671.10 94.30,669.60 95.00 C668.10 95.70,666.40 96.47,665.00 97.00 C663.60 97.53,662.45 97.95,661.20 98.20 C659.95 98.45,658.57 98.50,657.50 98.50 C656.43 98.50,655.75 97.70,654.80 98.20 C653.85 98.70,652.85 100.43,651.80 101.50 C650.75 102.57,650.05 103.43,648.50 104.60 C646.95 105.77,644.60 107.45,642.50 108.50 C640.40 109.55,638.32 110.12,635.90 110.90 C633.48 111.68,630.47 112.50,628.00 113.20 C625.53 113.90,623.93 114.47,621.10 115.10 C618.27 115.73,614.52 116.47,611.00 117.00 C607.48 117.53,604.17 118.05,600.00 118.30 C595.83 118.55,590.80 118.62,586.00 118.50 C581.20 118.38,576.37 117.95,571.20 117.60 C566.03 117.25,560.23 116.87,555.00 116.40 C549.77 115.93,543.30 115.53,539.80 114.80 C536.30 114.07,535.55 113.23,534.00 112.00 C532.45 110.77,531.17 108.82,530.50 107.40 C529.83 105.98,530.03 104.73,530.00 103.50 C529.97 102.27,529.88 101.03,530.30 100.00 Z" fill="#e1e1e3" stroke="#c8c8cc" stroke-width="0.7"/>
<path d="M654.8 98.2 C657 94,657.5 80,655.9 74 C656.5 72,658 71.5,660 72.8" fill="none" stroke="#d0d0d4" stroke-width="0.5"/>
<path d="M537.90 79.70 C538.23 77.20,538.65 74.03,539.50 72.00 C540.35 69.97,541.58 68.75,543.00 67.50 C544.42 66.25,546.38 65.08,548.00 64.50 C549.62 63.92,551.03 63.95,552.70 64.00 C554.37 64.05,556.00 64.33,558.00 64.80 C560.00 65.27,563.12 65.43,564.70 66.80 C566.28 68.17,566.70 70.47,567.50 73.00 C568.30 75.53,569.25 78.83,569.50 82.00 C569.75 85.17,569.58 89.42,569.00 92.00 C568.42 94.58,567.50 96.28,566.00 97.50 C564.50 98.72,562.67 98.97,560.00 99.30 C557.33 99.63,553.00 99.80,550.00 99.50 C547.00 99.20,543.92 98.42,542.00 97.50 C540.08 96.58,539.25 95.75,538.50 94.00 C537.75 92.25,537.60 89.38,537.50 87.00 C537.40 84.62,537.57 82.20,537.90 79.70 Z" fill="#dcdcde" stroke="#cacace" stroke-width="0.5"/>
<g fill="none" stroke="#cfcfd3" stroke-width="0.5">
<path d="M545 72 C550 76,552 82,550 88"/>
<path d="M556 68 C560 74,561 82,558 90"/>
<path d="M532 104 C545 102,560 103,572 108"/>
<path d="M541 96 C548 98,556 98,562 99"/>
<path d="M575 112 C590 113,610 112,628 108"/>
</g><g filter="url(#b06)">
<path d="M540.80 69.80 C542.77 68.32,547.40 65.88,550.70 64.90 C554.00 63.92,557.78 63.42,560.60 63.90 C563.42 64.38,566.28 65.95,567.60 67.80 C568.92 69.65,568.43 72.68,568.50 75.00 C568.57 77.32,567.58 79.53,568.00 81.70 C568.42 83.87,569.92 85.70,571.00 88.00 C572.08 90.30,573.17 93.42,574.50 95.50 C575.83 97.58,577.68 98.85,579.00 100.50 C580.32 102.15,581.83 103.75,582.40 105.40 C582.97 107.05,583.13 109.13,582.40 110.40 C581.67 111.67,579.32 112.50,578.00 113.00 C576.68 113.50,576.73 113.33,574.50 113.40 C572.27 113.47,567.90 113.40,564.60 113.40 C561.30 113.40,558.00 113.08,554.70 113.40 C551.40 113.72,547.12 115.30,544.80 115.30 C542.48 115.30,541.78 115.05,540.80 113.40 C539.82 111.75,538.90 107.72,538.90 105.40 C538.90 103.08,540.80 101.47,540.80 99.50 C540.80 97.53,539.38 96.23,538.90 93.60 C538.42 90.97,537.90 87.00,537.90 83.70 C537.90 80.40,538.42 76.12,538.90 73.80 C539.38 71.48,538.83 71.28,540.80 69.80 Z" fill="#7a1cb8" />
<path d="M568.00 81.70 C569.00 81.37,569.92 85.70,571.00 88.00 C572.08 90.30,573.17 93.42,574.50 95.50 C575.83 97.58,577.68 98.85,579.00 100.50 C580.32 102.15,581.83 103.75,582.40 105.40 C582.97 107.05,583.30 109.38,582.40 110.40 C581.50 111.42,578.73 112.23,577.00 111.50 C575.27 110.77,573.67 108.25,572.00 106.00 C570.33 103.75,568.17 100.67,567.00 98.00 C565.83 95.33,564.83 92.72,565.00 90.00 C565.17 87.28,567.00 82.03,568.00 81.70 Z" fill="#9a48c4" opacity="0.8"/>
<path d="M545.00 100.00 C546.17 97.67,551.67 97.17,555.00 97.00 C558.33 96.83,562.83 97.50,565.00 99.00 C567.17 100.50,568.83 104.00,568.00 106.00 C567.17 108.00,563.33 110.17,560.00 111.00 C556.67 111.83,550.50 112.83,548.00 111.00 C545.50 109.17,543.83 102.33,545.00 100.00 Z" fill="#8a2cc0" opacity="0.5"/>
<path d="M568.60 65.80 C569.27 64.55,569.68 63.32,571.00 62.50 C572.32 61.68,574.50 61.42,576.50 60.90 C578.50 60.38,580.70 59.73,583.00 59.40 C585.30 59.07,587.80 58.98,590.30 58.90 C592.80 58.82,595.55 58.90,598.00 58.90 C600.45 58.90,603.33 58.87,605.00 58.90 C606.67 58.93,607.50 57.92,608.00 59.10 C608.50 60.28,608.00 63.68,608.00 66.00 C608.00 68.32,608.83 71.63,608.00 73.00 C607.17 74.37,604.83 73.78,603.00 74.20 C601.17 74.62,599.00 75.03,597.00 75.50 C595.00 75.97,592.67 76.42,591.00 77.00 C589.33 77.58,588.08 78.25,587.00 79.00 C585.92 79.75,585.10 80.58,584.50 81.50 C583.90 82.42,583.55 83.42,583.40 84.50 C583.25 85.58,583.25 86.83,583.60 88.00 C583.95 89.17,584.60 90.47,585.50 91.50 C586.40 92.53,587.75 93.48,589.00 94.20 C590.25 94.92,591.33 95.42,593.00 95.80 C594.67 96.18,597.00 96.37,599.00 96.50 C601.00 96.63,603.83 96.02,605.00 96.60 C606.17 97.18,606.00 98.85,606.00 100.00 C606.00 101.15,606.33 102.92,605.00 103.50 C603.67 104.08,600.50 103.67,598.00 103.50 C595.50 103.33,592.27 103.00,590.00 102.50 C587.73 102.00,586.23 101.42,584.40 100.50 C582.57 99.58,580.65 98.15,579.00 97.00 C577.35 95.85,575.83 94.93,574.50 93.60 C573.17 92.27,571.98 90.33,571.00 89.00 C570.02 87.67,569.27 87.10,568.60 85.60 C567.93 84.10,567.33 81.65,567.00 80.00 C566.67 78.35,566.60 77.37,566.60 75.70 C566.60 74.03,566.67 71.65,567.00 70.00 C567.33 68.35,567.93 67.05,568.60 65.80 Z" fill="#2b12ea" />
<path d="M596.00 66.00 C597.00 64.20,601.00 64.75,603.00 64.50 C605.00 64.25,607.17 63.08,608.00 64.50 C608.83 65.92,608.83 71.38,608.00 73.00 C607.17 74.62,604.83 73.82,603.00 74.20 C601.17 74.58,598.17 76.67,597.00 75.30 C595.83 73.93,595.00 67.80,596.00 66.00 Z" fill="#4a34e4" opacity="0.7"/>
<path d="M611.90 79.60 C613.55 78.78,616.85 78.70,619.80 78.70 C622.75 78.70,626.80 78.95,629.60 79.60 C632.40 80.25,635.28 80.95,636.60 82.60 C637.92 84.25,637.67 87.03,637.50 89.50 C637.33 91.97,636.58 94.77,635.60 97.40 C634.62 100.03,633.25 103.48,631.60 105.30 C629.95 107.12,627.35 108.30,625.70 108.30 C624.05 108.30,623.68 106.28,621.70 105.30 C619.72 104.32,616.10 103.55,613.80 102.40 C611.50 101.25,608.88 100.22,607.90 98.40 C606.92 96.58,607.57 93.97,607.90 91.50 C608.23 89.03,609.23 85.58,609.90 83.60 C610.57 81.62,610.25 80.42,611.90 79.60 Z" fill="#8a4cc2" />
<path d="M614.00 84.00 C615.67 81.67,620.83 81.83,624.00 82.00 C627.17 82.17,631.50 83.50,633.00 85.00 C634.50 86.50,634.50 89.67,633.00 91.00 C631.50 92.33,627.17 92.17,624.00 93.00 C620.83 93.83,615.67 97.50,614.00 96.00 C612.33 94.50,612.33 86.33,614.00 84.00 Z" fill="#a678cc" opacity="0.55"/>
<path d="M600.00 90.00 C601.17 88.67,604.67 88.17,606.00 89.00 C607.33 89.83,607.83 92.83,608.00 95.00 C608.17 97.17,608.17 100.75,607.00 102.00 C605.83 103.25,602.33 103.33,601.00 102.50 C599.67 101.67,599.17 99.08,599.00 97.00 C598.83 94.92,598.83 91.33,600.00 90.00 Z" fill="#3a1ae2" opacity="0.9"/>
<path d="M635.60 73.70 C636.58 71.23,638.85 68.12,640.50 66.80 C642.15 65.48,643.68 65.47,645.50 65.80 C647.32 66.13,649.60 67.48,651.40 68.80 C653.20 70.12,655.32 71.57,656.30 73.70 C657.28 75.83,657.63 78.97,657.30 81.60 C656.97 84.23,655.62 87.18,654.30 89.50 C652.98 91.82,651.20 94.02,649.40 95.50 C647.60 96.98,646.13 97.75,643.50 98.40 C640.87 99.05,635.92 99.57,633.60 99.40 C631.28 99.23,629.77 99.05,629.60 97.40 C629.43 95.75,631.77 92.13,632.60 89.50 C633.43 86.87,634.10 84.23,634.60 81.60 C635.10 78.97,634.62 76.17,635.60 73.70 Z" fill="#5a46dc" />
<path d="M645.00 69.00 C645.83 67.58,649.17 68.67,651.00 69.50 C652.83 70.33,655.00 71.92,656.00 74.00 C657.00 76.08,657.25 79.42,657.00 82.00 C656.75 84.58,655.67 87.67,654.50 89.50 C653.33 91.33,651.25 93.25,650.00 93.00 C648.75 92.75,647.67 90.50,647.00 88.00 C646.33 85.50,646.33 81.17,646.00 78.00 C645.67 74.83,644.17 70.42,645.00 69.00 Z" fill="#2a0cf0" />
<path d="M640.00 67.50 C640.67 66.37,644.00 65.45,645.00 66.20 C646.00 66.95,646.67 70.87,646.00 72.00 C645.33 73.13,642.00 73.75,641.00 73.00 C640.00 72.25,639.33 68.63,640.00 67.50 Z" fill="#2a0cf0" />
</g></g></g>
</g>
<text class="s" x="477.5" y="367.2" text-anchor="middle" textLength="23.6" lengthAdjust="spacingAndGlyphs" style="font-size:4.6px;fill:#333">Effect Size</text>
<rect x="400" y="369.5" width="151" height="4" fill="url(#cbh)"/>
<text class="s" x="400.3" y="378.6" style="font-size:4.6px;fill:#333">-2</text>
<text class="s" x="548.6" y="378.6" style="font-size:4.6px;fill:#333">2</text>
</svg>
</body></html>
